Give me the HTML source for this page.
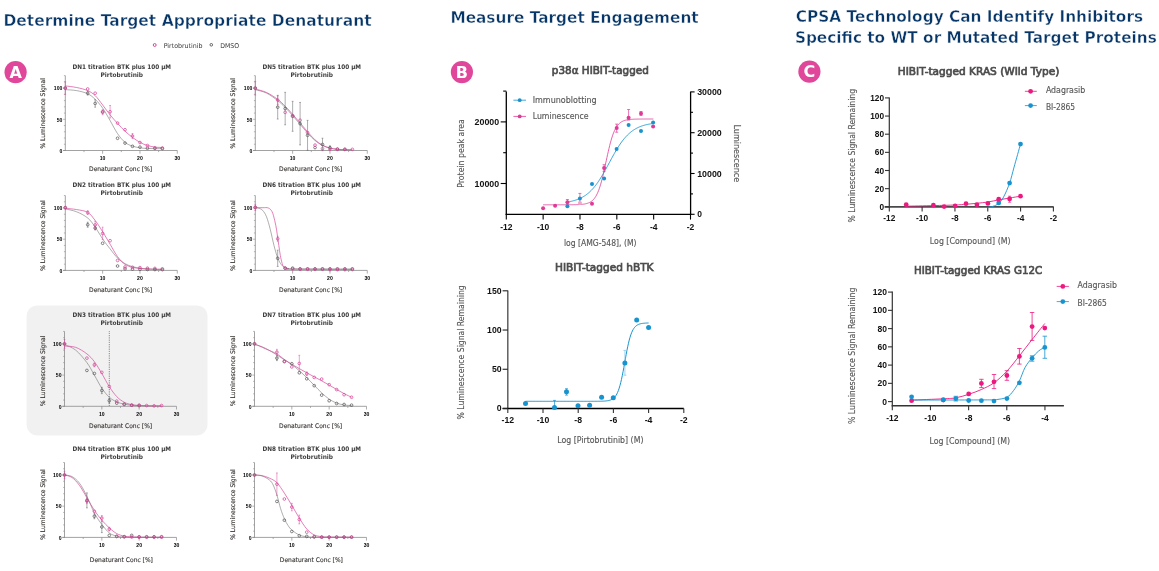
<!DOCTYPE html><html><head><meta charset="utf-8"><title>CPSA</title><style>html,body{margin:0;padding:0;background:#fff;width:1159px;height:571px;overflow:hidden}svg{display:block}text{font-family:'Liberation Sans', 'DejaVu Sans', sans-serif}.dv,.o{font-family:"DejaVu Sans","Liberation Sans",sans-serif}.a{font-family:"Liberation Sans","DejaVu Sans",sans-serif}</style></head><body>
<svg width="1159" height="571" viewBox="0 0 1159 571">
<rect x="0" y="0" width="1159" height="571" fill="#fff"/>
<text x="3.4" y="25.7" font-size="16.2" fill="#063668" font-weight="bold" text-anchor="start" textLength="368.2" lengthAdjust="spacingAndGlyphs" class="dv" stroke="#fff" stroke-width="0.45">Determine Target Appropriate Denaturant</text>
<text x="450.4" y="22.7" font-size="16.2" fill="#063668" font-weight="bold" text-anchor="start" textLength="248.3" lengthAdjust="spacingAndGlyphs" class="dv" stroke="#fff" stroke-width="0.45">Measure Target Engagement</text>
<text x="795.8" y="22.1" font-size="16.2" fill="#063668" font-weight="bold" text-anchor="start" textLength="347.3" lengthAdjust="spacingAndGlyphs" class="dv" stroke="#fff" stroke-width="0.45">CPSA Technology Can Identify Inhibitors</text>
<text x="794.9" y="42.7" font-size="16.2" fill="#063668" font-weight="bold" text-anchor="start" textLength="361.9" lengthAdjust="spacingAndGlyphs" class="dv" stroke="#fff" stroke-width="0.45">Specific to WT or Mutated Target Proteins</text>
<rect x="26.6" y="305.4" width="180.9" height="130.1" rx="11" ry="11" fill="#f1f1f1"/>
<circle cx="154.7" cy="45" r="1.45" fill="none" stroke="#d8479b" stroke-width="1.0"/>
<text x="163.7" y="48.1" font-size="6.6" fill="#383838" font-weight="normal" text-anchor="start" textLength="38.9" lengthAdjust="spacingAndGlyphs" class="o">Pirtobrutinib</text>
<circle cx="211.3" cy="44.8" r="1.3" fill="none" stroke="#444" stroke-width="0.8"/>
<text x="220.2" y="48.1" font-size="6.6" fill="#383838" font-weight="normal" text-anchor="start" textLength="18.9" lengthAdjust="spacingAndGlyphs" class="o">DMSO</text>
<circle cx="15.6" cy="72.2" r="11.1" fill="#e0479b"/>
<text x="15.6" y="77.9" font-size="16" fill="#fff" font-weight="bold" text-anchor="middle" class="o">A</text>
<circle cx="461.9" cy="72.1" r="11.1" fill="#e0479b"/>
<text x="461.9" y="77.8" font-size="16" fill="#fff" font-weight="bold" text-anchor="middle" class="o">B</text>
<circle cx="809.4" cy="71.6" r="11.1" fill="#e0479b"/>
<text x="809.4" y="77.3" font-size="16" fill="#fff" font-weight="bold" text-anchor="middle" class="o">C</text>
<text x="121.8" y="68.9" font-size="6.3" fill="#3c3c3c" font-weight="bold" text-anchor="middle" textLength="98.5" lengthAdjust="spacingAndGlyphs" class="o">DN1 titration BTK plus 100 μM</text>
<text x="121.8" y="76.9" font-size="6.3" fill="#3c3c3c" font-weight="bold" text-anchor="middle" textLength="42.5" lengthAdjust="spacingAndGlyphs" class="o">Pirtobrutinib</text>
<line x1="65.3" y1="150.9" x2="65.3" y2="75.62" stroke="#8a8a8a" stroke-width="0.8"/>
<line x1="63.1" y1="150.5" x2="177.29" y2="150.5" stroke="#8a8a8a" stroke-width="0.8"/>
<line x1="63.1" y1="150.5" x2="65.3" y2="150.5" stroke="#8a8a8a" stroke-width="0.6"/>
<line x1="63.9" y1="144.26" x2="65.3" y2="144.26" stroke="#8a8a8a" stroke-width="0.6"/>
<line x1="63.9" y1="138.02" x2="65.3" y2="138.02" stroke="#8a8a8a" stroke-width="0.6"/>
<line x1="63.9" y1="131.78" x2="65.3" y2="131.78" stroke="#8a8a8a" stroke-width="0.6"/>
<line x1="63.9" y1="125.54" x2="65.3" y2="125.54" stroke="#8a8a8a" stroke-width="0.6"/>
<line x1="63.1" y1="119.3" x2="65.3" y2="119.3" stroke="#8a8a8a" stroke-width="0.6"/>
<line x1="63.9" y1="113.06" x2="65.3" y2="113.06" stroke="#8a8a8a" stroke-width="0.6"/>
<line x1="63.9" y1="106.82" x2="65.3" y2="106.82" stroke="#8a8a8a" stroke-width="0.6"/>
<line x1="63.9" y1="100.58" x2="65.3" y2="100.58" stroke="#8a8a8a" stroke-width="0.6"/>
<line x1="63.9" y1="94.34" x2="65.3" y2="94.34" stroke="#8a8a8a" stroke-width="0.6"/>
<line x1="63.1" y1="88.1" x2="65.3" y2="88.1" stroke="#8a8a8a" stroke-width="0.6"/>
<line x1="63.9" y1="81.86" x2="65.3" y2="81.86" stroke="#8a8a8a" stroke-width="0.6"/>
<line x1="63.9" y1="75.62" x2="65.3" y2="75.62" stroke="#8a8a8a" stroke-width="0.6"/>
<line x1="83.97" y1="150.5" x2="83.97" y2="152.1" stroke="#8a8a8a" stroke-width="0.7"/>
<line x1="102.63" y1="150.5" x2="102.63" y2="153.7" stroke="#8a8a8a" stroke-width="0.7"/>
<line x1="121.3" y1="150.5" x2="121.3" y2="152.1" stroke="#8a8a8a" stroke-width="0.7"/>
<line x1="139.96" y1="150.5" x2="139.96" y2="153.7" stroke="#8a8a8a" stroke-width="0.7"/>
<line x1="158.62" y1="150.5" x2="158.62" y2="152.1" stroke="#8a8a8a" stroke-width="0.7"/>
<line x1="177.29" y1="150.5" x2="177.29" y2="153.7" stroke="#8a8a8a" stroke-width="0.7"/>
<text x="62.3" y="152.7" font-size="5.1" fill="#000" font-weight="bold" text-anchor="end" class="a">0</text>
<text x="62.3" y="121.5" font-size="5.1" fill="#000" font-weight="bold" text-anchor="end" class="a">50</text>
<text x="62.3" y="90.3" font-size="5.1" fill="#000" font-weight="bold" text-anchor="end" class="a">100</text>
<text x="102.63" y="160.2" font-size="5.1" fill="#000" font-weight="bold" text-anchor="middle" class="a">10</text>
<text x="139.96" y="160.2" font-size="5.1" fill="#000" font-weight="bold" text-anchor="middle" class="a">20</text>
<text x="177.29" y="160.2" font-size="5.1" fill="#000" font-weight="bold" text-anchor="middle" class="a">30</text>
<text x="120.6" y="170.6" font-size="6.3" fill="#3d3936" font-weight="normal" text-anchor="middle" textLength="63.1" lengthAdjust="spacingAndGlyphs" stroke="#3d3936" stroke-width="0.15" class="o">Denaturant Conc [%]</text>
<text transform="translate(44.7,113.3) rotate(-90)" x="0" y="0" font-size="6.3" fill="#3d3936" stroke="#3d3936" stroke-width="0.15" text-anchor="middle" class="o" textLength="70.4" lengthAdjust="spacingAndGlyphs">% Luminescence Signal</text>
<path d="M65.3,89.66 C67.17,89.82 72.77,89.92 76.5,90.6 C80.23,91.27 84.59,92.26 87.7,93.72 C90.81,95.17 92.68,96.94 95.16,99.33 C97.65,101.72 100.14,104.53 102.63,108.07 C105.12,111.6 107.61,116.28 110.1,120.55 C112.58,124.81 115.07,130.01 117.56,133.65 C120.05,137.29 122.54,140.31 125.03,142.39 C127.52,144.47 130.01,145.23 132.49,146.13 C134.98,147.04 137.47,147.43 139.96,147.82 C142.45,148.2 144.94,148.31 147.43,148.44 C149.91,148.58 152.4,148.6 154.89,148.63 C157.38,148.66 161.11,148.63 162.36,148.63" fill="none" stroke="#6a6a6a" stroke-width="0.55"/>
<path d="M65.3,85.92 C67.17,86.18 72.77,86.7 76.5,87.48 C80.23,88.26 84.59,89.24 87.7,90.6 C90.81,91.95 92.68,93.2 95.16,95.59 C97.65,97.98 100.14,101.72 102.63,104.95 C105.12,108.17 107.61,111.86 110.1,114.93 C112.58,118 115.07,120.65 117.56,123.36 C120.05,126.06 122.54,128.82 125.03,131.16 C127.52,133.5 130.01,135.52 132.49,137.4 C134.98,139.27 137.47,141.04 139.96,142.39 C142.45,143.74 144.94,144.73 147.43,145.51 C149.91,146.29 152.4,146.74 154.89,147.07 C157.38,147.4 161.11,147.43 162.36,147.5" fill="none" stroke="#d8479b" stroke-width="0.7"/>
<circle cx="65.3" cy="88.1" r="1.35" fill="none" stroke="#5a5a5a" stroke-width="0.75"/>
<line x1="87.7" y1="91.34" x2="87.7" y2="95.09" stroke="#5a5a5a" stroke-width="0.5"/>
<line x1="86.8" y1="91.34" x2="88.6" y2="91.34" stroke="#5a5a5a" stroke-width="0.5"/>
<line x1="86.8" y1="95.09" x2="88.6" y2="95.09" stroke="#5a5a5a" stroke-width="0.5"/>
<circle cx="87.7" cy="93.22" r="1.35" fill="none" stroke="#5a5a5a" stroke-width="0.75"/>
<line x1="95.16" y1="99.71" x2="95.16" y2="107.19" stroke="#5a5a5a" stroke-width="0.5"/>
<line x1="94.26" y1="99.71" x2="96.06" y2="99.71" stroke="#5a5a5a" stroke-width="0.5"/>
<line x1="94.26" y1="107.19" x2="96.06" y2="107.19" stroke="#5a5a5a" stroke-width="0.5"/>
<circle cx="95.16" cy="103.45" r="1.35" fill="none" stroke="#5a5a5a" stroke-width="0.75"/>
<circle cx="102.63" cy="111.81" r="1.35" fill="none" stroke="#5a5a5a" stroke-width="0.75"/>
<circle cx="117.56" cy="138.27" r="1.35" fill="none" stroke="#5a5a5a" stroke-width="0.75"/>
<circle cx="125.03" cy="143.07" r="1.35" fill="none" stroke="#5a5a5a" stroke-width="0.75"/>
<circle cx="132.49" cy="146.32" r="1.35" fill="none" stroke="#5a5a5a" stroke-width="0.75"/>
<circle cx="139.96" cy="147.13" r="1.35" fill="none" stroke="#5a5a5a" stroke-width="0.75"/>
<circle cx="147.43" cy="148.25" r="1.35" fill="none" stroke="#5a5a5a" stroke-width="0.75"/>
<circle cx="154.89" cy="148.25" r="1.35" fill="none" stroke="#5a5a5a" stroke-width="0.75"/>
<circle cx="162.36" cy="148.57" r="1.35" fill="none" stroke="#5a5a5a" stroke-width="0.75"/>
<line x1="65.3" y1="81.86" x2="65.3" y2="94.34" stroke="#d8479b" stroke-width="0.5"/>
<line x1="64.4" y1="81.86" x2="66.2" y2="81.86" stroke="#d8479b" stroke-width="0.5"/>
<line x1="64.4" y1="94.34" x2="66.2" y2="94.34" stroke="#d8479b" stroke-width="0.5"/>
<circle cx="65.3" cy="88.1" r="1.35" fill="none" stroke="#d8479b" stroke-width="0.75"/>
<circle cx="87.7" cy="88.97" r="1.35" fill="none" stroke="#d8479b" stroke-width="0.75"/>
<circle cx="95.16" cy="93.22" r="1.35" fill="none" stroke="#d8479b" stroke-width="0.75"/>
<line x1="102.63" y1="109.69" x2="102.63" y2="114.68" stroke="#d8479b" stroke-width="0.5"/>
<line x1="101.73" y1="109.69" x2="103.53" y2="109.69" stroke="#d8479b" stroke-width="0.5"/>
<line x1="101.73" y1="114.68" x2="103.53" y2="114.68" stroke="#d8479b" stroke-width="0.5"/>
<circle cx="102.63" cy="112.19" r="1.35" fill="none" stroke="#d8479b" stroke-width="0.75"/>
<line x1="110.1" y1="105.51" x2="110.1" y2="117.99" stroke="#d8479b" stroke-width="0.5"/>
<line x1="109.2" y1="105.51" x2="111" y2="105.51" stroke="#d8479b" stroke-width="0.5"/>
<line x1="109.2" y1="117.99" x2="111" y2="117.99" stroke="#d8479b" stroke-width="0.5"/>
<circle cx="110.1" cy="111.75" r="1.35" fill="none" stroke="#d8479b" stroke-width="0.75"/>
<circle cx="117.56" cy="123.11" r="1.35" fill="none" stroke="#d8479b" stroke-width="0.75"/>
<circle cx="125.03" cy="129.72" r="1.35" fill="none" stroke="#d8479b" stroke-width="0.75"/>
<line x1="132.49" y1="133.53" x2="132.49" y2="138.52" stroke="#d8479b" stroke-width="0.5"/>
<line x1="131.59" y1="133.53" x2="133.39" y2="133.53" stroke="#d8479b" stroke-width="0.5"/>
<line x1="131.59" y1="138.52" x2="133.39" y2="138.52" stroke="#d8479b" stroke-width="0.5"/>
<circle cx="132.49" cy="136.02" r="1.35" fill="none" stroke="#d8479b" stroke-width="0.75"/>
<circle cx="139.96" cy="142.51" r="1.35" fill="none" stroke="#d8479b" stroke-width="0.75"/>
<circle cx="147.43" cy="145.57" r="1.35" fill="none" stroke="#d8479b" stroke-width="0.75"/>
<circle cx="154.89" cy="148.13" r="1.35" fill="none" stroke="#d8479b" stroke-width="0.75"/>
<circle cx="162.36" cy="148" r="1.35" fill="none" stroke="#d8479b" stroke-width="0.75"/>
<text x="311.8" y="68.9" font-size="6.3" fill="#3c3c3c" font-weight="bold" text-anchor="middle" textLength="98.5" lengthAdjust="spacingAndGlyphs" class="o">DN5 titration BTK plus 100 μM</text>
<text x="311.8" y="76.9" font-size="6.3" fill="#3c3c3c" font-weight="bold" text-anchor="middle" textLength="42.5" lengthAdjust="spacingAndGlyphs" class="o">Pirtobrutinib</text>
<line x1="255.3" y1="150.9" x2="255.3" y2="75.62" stroke="#8a8a8a" stroke-width="0.8"/>
<line x1="253.1" y1="150.5" x2="367.29" y2="150.5" stroke="#8a8a8a" stroke-width="0.8"/>
<line x1="253.1" y1="150.5" x2="255.3" y2="150.5" stroke="#8a8a8a" stroke-width="0.6"/>
<line x1="253.9" y1="144.26" x2="255.3" y2="144.26" stroke="#8a8a8a" stroke-width="0.6"/>
<line x1="253.9" y1="138.02" x2="255.3" y2="138.02" stroke="#8a8a8a" stroke-width="0.6"/>
<line x1="253.9" y1="131.78" x2="255.3" y2="131.78" stroke="#8a8a8a" stroke-width="0.6"/>
<line x1="253.9" y1="125.54" x2="255.3" y2="125.54" stroke="#8a8a8a" stroke-width="0.6"/>
<line x1="253.1" y1="119.3" x2="255.3" y2="119.3" stroke="#8a8a8a" stroke-width="0.6"/>
<line x1="253.9" y1="113.06" x2="255.3" y2="113.06" stroke="#8a8a8a" stroke-width="0.6"/>
<line x1="253.9" y1="106.82" x2="255.3" y2="106.82" stroke="#8a8a8a" stroke-width="0.6"/>
<line x1="253.9" y1="100.58" x2="255.3" y2="100.58" stroke="#8a8a8a" stroke-width="0.6"/>
<line x1="253.9" y1="94.34" x2="255.3" y2="94.34" stroke="#8a8a8a" stroke-width="0.6"/>
<line x1="253.1" y1="88.1" x2="255.3" y2="88.1" stroke="#8a8a8a" stroke-width="0.6"/>
<line x1="253.9" y1="81.86" x2="255.3" y2="81.86" stroke="#8a8a8a" stroke-width="0.6"/>
<line x1="253.9" y1="75.62" x2="255.3" y2="75.62" stroke="#8a8a8a" stroke-width="0.6"/>
<line x1="273.97" y1="150.5" x2="273.97" y2="152.1" stroke="#8a8a8a" stroke-width="0.7"/>
<line x1="292.63" y1="150.5" x2="292.63" y2="153.7" stroke="#8a8a8a" stroke-width="0.7"/>
<line x1="311.3" y1="150.5" x2="311.3" y2="152.1" stroke="#8a8a8a" stroke-width="0.7"/>
<line x1="329.96" y1="150.5" x2="329.96" y2="153.7" stroke="#8a8a8a" stroke-width="0.7"/>
<line x1="348.62" y1="150.5" x2="348.62" y2="152.1" stroke="#8a8a8a" stroke-width="0.7"/>
<line x1="367.29" y1="150.5" x2="367.29" y2="153.7" stroke="#8a8a8a" stroke-width="0.7"/>
<text x="252.3" y="152.7" font-size="5.1" fill="#000" font-weight="bold" text-anchor="end" class="a">0</text>
<text x="252.3" y="121.5" font-size="5.1" fill="#000" font-weight="bold" text-anchor="end" class="a">50</text>
<text x="252.3" y="90.3" font-size="5.1" fill="#000" font-weight="bold" text-anchor="end" class="a">100</text>
<text x="292.63" y="160.2" font-size="5.1" fill="#000" font-weight="bold" text-anchor="middle" class="a">10</text>
<text x="329.96" y="160.2" font-size="5.1" fill="#000" font-weight="bold" text-anchor="middle" class="a">20</text>
<text x="367.29" y="160.2" font-size="5.1" fill="#000" font-weight="bold" text-anchor="middle" class="a">30</text>
<text x="310.6" y="170.6" font-size="6.3" fill="#3d3936" font-weight="normal" text-anchor="middle" textLength="63.1" lengthAdjust="spacingAndGlyphs" stroke="#3d3936" stroke-width="0.15" class="o">Denaturant Conc [%]</text>
<text transform="translate(234.7,113.3) rotate(-90)" x="0" y="0" font-size="6.3" fill="#3d3936" stroke="#3d3936" stroke-width="0.15" text-anchor="middle" class="o" textLength="70.4" lengthAdjust="spacingAndGlyphs">% Luminescence Signal</text>
<path d="M255.3,89.66 C257.17,90.23 262.77,91.27 266.5,93.09 C270.23,94.91 274.59,98.19 277.7,100.58 C280.81,102.97 282.68,104.95 285.16,107.44 C287.65,109.94 290.14,112.75 292.63,115.56 C295.12,118.36 297.61,121.38 300.1,124.29 C302.58,127.2 305.07,130.32 307.56,133.03 C310.05,135.73 312.54,138.44 315.03,140.52 C317.52,142.6 320.01,144.24 322.49,145.51 C324.98,146.78 327.47,147.48 329.96,148.13 C332.45,148.77 334.94,149.11 337.43,149.38 C339.91,149.65 342.4,149.67 344.89,149.75 C347.38,149.83 351.11,149.86 352.36,149.88" fill="none" stroke="#6a6a6a" stroke-width="0.55"/>
<path d="M255.3,89.04 C257.17,89.61 262.77,90.75 266.5,92.47 C270.23,94.18 274.59,97.04 277.7,99.33 C280.81,101.62 282.68,103.7 285.16,106.2 C287.65,108.69 290.14,111.5 292.63,114.31 C295.12,117.12 297.61,120.13 300.1,123.04 C302.58,125.96 305.07,128.97 307.56,131.78 C310.05,134.59 312.54,137.66 315.03,139.89 C317.52,142.13 320.01,143.84 322.49,145.2 C324.98,146.55 327.47,147.33 329.96,148 C332.45,148.68 334.94,148.97 337.43,149.25 C339.91,149.53 342.4,149.58 344.89,149.69 C347.38,149.79 351.11,149.84 352.36,149.88" fill="none" stroke="#d8479b" stroke-width="0.7"/>
<circle cx="255.3" cy="88.1" r="1.35" fill="none" stroke="#5a5a5a" stroke-width="0.75"/>
<line x1="277.7" y1="95.34" x2="277.7" y2="119.05" stroke="#5a5a5a" stroke-width="0.5"/>
<line x1="276.8" y1="95.34" x2="278.6" y2="95.34" stroke="#5a5a5a" stroke-width="0.5"/>
<line x1="276.8" y1="119.05" x2="278.6" y2="119.05" stroke="#5a5a5a" stroke-width="0.5"/>
<circle cx="277.7" cy="107.19" r="1.35" fill="none" stroke="#5a5a5a" stroke-width="0.75"/>
<line x1="285.16" y1="92.34" x2="285.16" y2="124.79" stroke="#5a5a5a" stroke-width="0.5"/>
<line x1="284.26" y1="92.34" x2="286.06" y2="92.34" stroke="#5a5a5a" stroke-width="0.5"/>
<line x1="284.26" y1="124.79" x2="286.06" y2="124.79" stroke="#5a5a5a" stroke-width="0.5"/>
<circle cx="285.16" cy="108.57" r="1.35" fill="none" stroke="#5a5a5a" stroke-width="0.75"/>
<line x1="292.63" y1="101.33" x2="292.63" y2="131.28" stroke="#5a5a5a" stroke-width="0.5"/>
<line x1="291.73" y1="101.33" x2="293.53" y2="101.33" stroke="#5a5a5a" stroke-width="0.5"/>
<line x1="291.73" y1="131.28" x2="293.53" y2="131.28" stroke="#5a5a5a" stroke-width="0.5"/>
<circle cx="292.63" cy="116.3" r="1.35" fill="none" stroke="#5a5a5a" stroke-width="0.75"/>
<line x1="300.1" y1="102.45" x2="300.1" y2="144.88" stroke="#5a5a5a" stroke-width="0.5"/>
<line x1="299.2" y1="102.45" x2="301" y2="102.45" stroke="#5a5a5a" stroke-width="0.5"/>
<line x1="299.2" y1="144.88" x2="301" y2="144.88" stroke="#5a5a5a" stroke-width="0.5"/>
<circle cx="300.1" cy="123.67" r="1.35" fill="none" stroke="#5a5a5a" stroke-width="0.75"/>
<line x1="307.56" y1="120.36" x2="307.56" y2="150.31" stroke="#5a5a5a" stroke-width="0.5"/>
<line x1="306.66" y1="120.36" x2="308.46" y2="120.36" stroke="#5a5a5a" stroke-width="0.5"/>
<line x1="306.66" y1="150.31" x2="308.46" y2="150.31" stroke="#5a5a5a" stroke-width="0.5"/>
<circle cx="307.56" cy="135.34" r="1.35" fill="none" stroke="#5a5a5a" stroke-width="0.75"/>
<circle cx="315.03" cy="147.57" r="1.35" fill="none" stroke="#5a5a5a" stroke-width="0.75"/>
<line x1="322.49" y1="138.21" x2="322.49" y2="150.69" stroke="#5a5a5a" stroke-width="0.5"/>
<line x1="321.59" y1="138.21" x2="323.39" y2="138.21" stroke="#5a5a5a" stroke-width="0.5"/>
<line x1="321.59" y1="150.69" x2="323.39" y2="150.69" stroke="#5a5a5a" stroke-width="0.5"/>
<circle cx="322.49" cy="144.45" r="1.35" fill="none" stroke="#5a5a5a" stroke-width="0.75"/>
<line x1="329.96" y1="145.82" x2="329.96" y2="149.56" stroke="#5a5a5a" stroke-width="0.5"/>
<line x1="329.06" y1="145.82" x2="330.86" y2="145.82" stroke="#5a5a5a" stroke-width="0.5"/>
<line x1="329.06" y1="149.56" x2="330.86" y2="149.56" stroke="#5a5a5a" stroke-width="0.5"/>
<circle cx="329.96" cy="147.69" r="1.35" fill="none" stroke="#5a5a5a" stroke-width="0.75"/>
<circle cx="337.43" cy="149.06" r="1.35" fill="none" stroke="#5a5a5a" stroke-width="0.75"/>
<circle cx="344.89" cy="149.38" r="1.35" fill="none" stroke="#5a5a5a" stroke-width="0.75"/>
<line x1="255.3" y1="81.36" x2="255.3" y2="95.09" stroke="#d8479b" stroke-width="0.5"/>
<line x1="254.4" y1="81.36" x2="256.2" y2="81.36" stroke="#d8479b" stroke-width="0.5"/>
<line x1="254.4" y1="95.09" x2="256.2" y2="95.09" stroke="#d8479b" stroke-width="0.5"/>
<circle cx="255.3" cy="88.22" r="1.35" fill="none" stroke="#d8479b" stroke-width="0.75"/>
<line x1="277.7" y1="95.78" x2="277.7" y2="104.51" stroke="#d8479b" stroke-width="0.5"/>
<line x1="276.8" y1="95.78" x2="278.6" y2="95.78" stroke="#d8479b" stroke-width="0.5"/>
<line x1="276.8" y1="104.51" x2="278.6" y2="104.51" stroke="#d8479b" stroke-width="0.5"/>
<circle cx="277.7" cy="100.14" r="1.35" fill="none" stroke="#d8479b" stroke-width="0.75"/>
<circle cx="285.16" cy="112.37" r="1.35" fill="none" stroke="#d8479b" stroke-width="0.75"/>
<circle cx="292.63" cy="115.62" r="1.35" fill="none" stroke="#d8479b" stroke-width="0.75"/>
<circle cx="300.1" cy="120.24" r="1.35" fill="none" stroke="#d8479b" stroke-width="0.75"/>
<circle cx="307.56" cy="132.53" r="1.35" fill="none" stroke="#d8479b" stroke-width="0.75"/>
<circle cx="315.03" cy="145.13" r="1.35" fill="none" stroke="#d8479b" stroke-width="0.75"/>
<circle cx="322.49" cy="148.69" r="1.35" fill="none" stroke="#d8479b" stroke-width="0.75"/>
<circle cx="329.96" cy="149.38" r="1.35" fill="none" stroke="#d8479b" stroke-width="0.75"/>
<circle cx="337.43" cy="149.38" r="1.35" fill="none" stroke="#d8479b" stroke-width="0.75"/>
<circle cx="344.89" cy="149.38" r="1.35" fill="none" stroke="#d8479b" stroke-width="0.75"/>
<circle cx="352.36" cy="149.38" r="1.35" fill="none" stroke="#d8479b" stroke-width="0.75"/>
<text x="121.8" y="186.7" font-size="6.3" fill="#3c3c3c" font-weight="bold" text-anchor="middle" textLength="98.5" lengthAdjust="spacingAndGlyphs" class="o">DN2 titration BTK plus 100 μM</text>
<text x="121.8" y="194.7" font-size="6.3" fill="#3c3c3c" font-weight="bold" text-anchor="middle" textLength="42.5" lengthAdjust="spacingAndGlyphs" class="o">Pirtobrutinib</text>
<line x1="65.3" y1="270.8" x2="65.3" y2="195.52" stroke="#8a8a8a" stroke-width="0.8"/>
<line x1="63.1" y1="270.4" x2="177.29" y2="270.4" stroke="#8a8a8a" stroke-width="0.8"/>
<line x1="63.1" y1="270.4" x2="65.3" y2="270.4" stroke="#8a8a8a" stroke-width="0.6"/>
<line x1="63.9" y1="264.16" x2="65.3" y2="264.16" stroke="#8a8a8a" stroke-width="0.6"/>
<line x1="63.9" y1="257.92" x2="65.3" y2="257.92" stroke="#8a8a8a" stroke-width="0.6"/>
<line x1="63.9" y1="251.68" x2="65.3" y2="251.68" stroke="#8a8a8a" stroke-width="0.6"/>
<line x1="63.9" y1="245.44" x2="65.3" y2="245.44" stroke="#8a8a8a" stroke-width="0.6"/>
<line x1="63.1" y1="239.2" x2="65.3" y2="239.2" stroke="#8a8a8a" stroke-width="0.6"/>
<line x1="63.9" y1="232.96" x2="65.3" y2="232.96" stroke="#8a8a8a" stroke-width="0.6"/>
<line x1="63.9" y1="226.72" x2="65.3" y2="226.72" stroke="#8a8a8a" stroke-width="0.6"/>
<line x1="63.9" y1="220.48" x2="65.3" y2="220.48" stroke="#8a8a8a" stroke-width="0.6"/>
<line x1="63.9" y1="214.24" x2="65.3" y2="214.24" stroke="#8a8a8a" stroke-width="0.6"/>
<line x1="63.1" y1="208" x2="65.3" y2="208" stroke="#8a8a8a" stroke-width="0.6"/>
<line x1="63.9" y1="201.76" x2="65.3" y2="201.76" stroke="#8a8a8a" stroke-width="0.6"/>
<line x1="63.9" y1="195.52" x2="65.3" y2="195.52" stroke="#8a8a8a" stroke-width="0.6"/>
<line x1="83.97" y1="270.4" x2="83.97" y2="272" stroke="#8a8a8a" stroke-width="0.7"/>
<line x1="102.63" y1="270.4" x2="102.63" y2="273.6" stroke="#8a8a8a" stroke-width="0.7"/>
<line x1="121.3" y1="270.4" x2="121.3" y2="272" stroke="#8a8a8a" stroke-width="0.7"/>
<line x1="139.96" y1="270.4" x2="139.96" y2="273.6" stroke="#8a8a8a" stroke-width="0.7"/>
<line x1="158.62" y1="270.4" x2="158.62" y2="272" stroke="#8a8a8a" stroke-width="0.7"/>
<line x1="177.29" y1="270.4" x2="177.29" y2="273.6" stroke="#8a8a8a" stroke-width="0.7"/>
<text x="62.3" y="272.6" font-size="5.1" fill="#000" font-weight="bold" text-anchor="end" class="a">0</text>
<text x="62.3" y="241.4" font-size="5.1" fill="#000" font-weight="bold" text-anchor="end" class="a">50</text>
<text x="62.3" y="210.2" font-size="5.1" fill="#000" font-weight="bold" text-anchor="end" class="a">100</text>
<text x="102.63" y="280.1" font-size="5.1" fill="#000" font-weight="bold" text-anchor="middle" class="a">10</text>
<text x="139.96" y="280.1" font-size="5.1" fill="#000" font-weight="bold" text-anchor="middle" class="a">20</text>
<text x="177.29" y="280.1" font-size="5.1" fill="#000" font-weight="bold" text-anchor="middle" class="a">30</text>
<text x="120.6" y="292.4" font-size="6.3" fill="#3d3936" font-weight="normal" text-anchor="middle" textLength="63.1" lengthAdjust="spacingAndGlyphs" stroke="#3d3936" stroke-width="0.15" class="o">Denaturant Conc [%]</text>
<text transform="translate(44.7,235.5) rotate(-90)" x="0" y="0" font-size="6.3" fill="#3d3936" stroke="#3d3936" stroke-width="0.15" text-anchor="middle" class="o" textLength="70.4" lengthAdjust="spacingAndGlyphs">% Luminescence Signal</text>
<path d="M65.3,208.94 C67.17,209.4 72.77,210.24 76.5,211.74 C80.23,213.25 84.59,215.44 87.7,217.98 C90.81,220.53 92.68,223.53 95.16,227.03 C97.65,230.54 100.14,235.37 102.63,239.01 C105.12,242.65 107.61,245.7 110.1,248.87 C112.58,252.04 115.07,255.58 117.56,258.04 C120.05,260.51 122.54,262.23 125.03,263.66 C127.52,265.1 130.01,265.91 132.49,266.66 C134.98,267.4 137.47,267.78 139.96,268.15 C142.45,268.53 144.94,268.72 147.43,268.9 C149.91,269.09 152.4,269.18 154.89,269.28 C157.38,269.37 161.11,269.43 162.36,269.46" fill="none" stroke="#6a6a6a" stroke-width="0.55"/>
<path d="M65.3,208.31 C67.17,208.52 72.77,208.88 76.5,209.56 C80.23,210.24 84.59,210.55 87.7,212.37 C90.81,214.19 92.68,217.26 95.16,220.48 C97.65,223.7 100.14,227.76 102.63,231.71 C105.12,235.66 107.61,240.03 110.1,244.19 C112.58,248.35 115.07,253.31 117.56,256.67 C120.05,260.03 122.54,262.58 125.03,264.35 C127.52,266.12 130.01,266.58 132.49,267.28 C134.98,267.98 137.47,268.24 139.96,268.53 C142.45,268.82 144.94,268.91 147.43,269.03 C149.91,269.14 152.4,269.17 154.89,269.21 C157.38,269.26 161.11,269.27 162.36,269.28" fill="none" stroke="#d8479b" stroke-width="0.7"/>
<circle cx="65.3" cy="207.69" r="1.35" fill="none" stroke="#5a5a5a" stroke-width="0.75"/>
<line x1="87.7" y1="222.23" x2="87.7" y2="227.22" stroke="#5a5a5a" stroke-width="0.5"/>
<line x1="86.8" y1="222.23" x2="88.6" y2="222.23" stroke="#5a5a5a" stroke-width="0.5"/>
<line x1="86.8" y1="227.22" x2="88.6" y2="227.22" stroke="#5a5a5a" stroke-width="0.5"/>
<circle cx="87.7" cy="224.72" r="1.35" fill="none" stroke="#5a5a5a" stroke-width="0.75"/>
<line x1="95.16" y1="226.22" x2="95.16" y2="229.96" stroke="#5a5a5a" stroke-width="0.5"/>
<line x1="94.26" y1="226.22" x2="96.06" y2="226.22" stroke="#5a5a5a" stroke-width="0.5"/>
<line x1="94.26" y1="229.96" x2="96.06" y2="229.96" stroke="#5a5a5a" stroke-width="0.5"/>
<circle cx="95.16" cy="228.09" r="1.35" fill="none" stroke="#5a5a5a" stroke-width="0.75"/>
<circle cx="102.63" cy="243.26" r="1.35" fill="none" stroke="#5a5a5a" stroke-width="0.75"/>
<circle cx="117.56" cy="266.03" r="1.35" fill="none" stroke="#5a5a5a" stroke-width="0.75"/>
<circle cx="125.03" cy="268.84" r="1.35" fill="none" stroke="#5a5a5a" stroke-width="0.75"/>
<circle cx="132.49" cy="269.15" r="1.35" fill="none" stroke="#5a5a5a" stroke-width="0.75"/>
<circle cx="139.96" cy="269.28" r="1.35" fill="none" stroke="#5a5a5a" stroke-width="0.75"/>
<circle cx="147.43" cy="269.46" r="1.35" fill="none" stroke="#5a5a5a" stroke-width="0.75"/>
<circle cx="154.89" cy="269.53" r="1.35" fill="none" stroke="#5a5a5a" stroke-width="0.75"/>
<circle cx="162.36" cy="269.59" r="1.35" fill="none" stroke="#5a5a5a" stroke-width="0.75"/>
<circle cx="65.3" cy="207.69" r="1.35" fill="none" stroke="#d8479b" stroke-width="0.75"/>
<line x1="87.7" y1="210.75" x2="87.7" y2="214.49" stroke="#d8479b" stroke-width="0.5"/>
<line x1="86.8" y1="210.75" x2="88.6" y2="210.75" stroke="#d8479b" stroke-width="0.5"/>
<line x1="86.8" y1="214.49" x2="88.6" y2="214.49" stroke="#d8479b" stroke-width="0.5"/>
<circle cx="87.7" cy="212.62" r="1.35" fill="none" stroke="#d8479b" stroke-width="0.75"/>
<line x1="95.16" y1="221.23" x2="95.16" y2="228.72" stroke="#d8479b" stroke-width="0.5"/>
<line x1="94.26" y1="221.23" x2="96.06" y2="221.23" stroke="#d8479b" stroke-width="0.5"/>
<line x1="94.26" y1="228.72" x2="96.06" y2="228.72" stroke="#d8479b" stroke-width="0.5"/>
<circle cx="95.16" cy="224.97" r="1.35" fill="none" stroke="#d8479b" stroke-width="0.75"/>
<line x1="102.63" y1="227.16" x2="102.63" y2="239.64" stroke="#d8479b" stroke-width="0.5"/>
<line x1="101.73" y1="227.16" x2="103.53" y2="227.16" stroke="#d8479b" stroke-width="0.5"/>
<line x1="101.73" y1="239.64" x2="103.53" y2="239.64" stroke="#d8479b" stroke-width="0.5"/>
<circle cx="102.63" cy="233.4" r="1.35" fill="none" stroke="#d8479b" stroke-width="0.75"/>
<circle cx="110.1" cy="240.7" r="1.35" fill="none" stroke="#d8479b" stroke-width="0.75"/>
<circle cx="117.56" cy="260.42" r="1.35" fill="none" stroke="#d8479b" stroke-width="0.75"/>
<circle cx="125.03" cy="267.03" r="1.35" fill="none" stroke="#d8479b" stroke-width="0.75"/>
<circle cx="132.49" cy="267.28" r="1.35" fill="none" stroke="#d8479b" stroke-width="0.75"/>
<circle cx="139.96" cy="267.59" r="1.35" fill="none" stroke="#d8479b" stroke-width="0.75"/>
<circle cx="147.43" cy="268.15" r="1.35" fill="none" stroke="#d8479b" stroke-width="0.75"/>
<circle cx="154.89" cy="268.4" r="1.35" fill="none" stroke="#d8479b" stroke-width="0.75"/>
<circle cx="162.36" cy="268.84" r="1.35" fill="none" stroke="#d8479b" stroke-width="0.75"/>
<text x="311.8" y="186.7" font-size="6.3" fill="#3c3c3c" font-weight="bold" text-anchor="middle" textLength="98.5" lengthAdjust="spacingAndGlyphs" class="o">DN6 titration BTK plus 100 μM</text>
<text x="311.8" y="194.7" font-size="6.3" fill="#3c3c3c" font-weight="bold" text-anchor="middle" textLength="42.5" lengthAdjust="spacingAndGlyphs" class="o">Pirtobrutinib</text>
<line x1="255.3" y1="270.8" x2="255.3" y2="195.52" stroke="#8a8a8a" stroke-width="0.8"/>
<line x1="253.1" y1="270.4" x2="367.29" y2="270.4" stroke="#8a8a8a" stroke-width="0.8"/>
<line x1="253.1" y1="270.4" x2="255.3" y2="270.4" stroke="#8a8a8a" stroke-width="0.6"/>
<line x1="253.9" y1="264.16" x2="255.3" y2="264.16" stroke="#8a8a8a" stroke-width="0.6"/>
<line x1="253.9" y1="257.92" x2="255.3" y2="257.92" stroke="#8a8a8a" stroke-width="0.6"/>
<line x1="253.9" y1="251.68" x2="255.3" y2="251.68" stroke="#8a8a8a" stroke-width="0.6"/>
<line x1="253.9" y1="245.44" x2="255.3" y2="245.44" stroke="#8a8a8a" stroke-width="0.6"/>
<line x1="253.1" y1="239.2" x2="255.3" y2="239.2" stroke="#8a8a8a" stroke-width="0.6"/>
<line x1="253.9" y1="232.96" x2="255.3" y2="232.96" stroke="#8a8a8a" stroke-width="0.6"/>
<line x1="253.9" y1="226.72" x2="255.3" y2="226.72" stroke="#8a8a8a" stroke-width="0.6"/>
<line x1="253.9" y1="220.48" x2="255.3" y2="220.48" stroke="#8a8a8a" stroke-width="0.6"/>
<line x1="253.9" y1="214.24" x2="255.3" y2="214.24" stroke="#8a8a8a" stroke-width="0.6"/>
<line x1="253.1" y1="208" x2="255.3" y2="208" stroke="#8a8a8a" stroke-width="0.6"/>
<line x1="253.9" y1="201.76" x2="255.3" y2="201.76" stroke="#8a8a8a" stroke-width="0.6"/>
<line x1="253.9" y1="195.52" x2="255.3" y2="195.52" stroke="#8a8a8a" stroke-width="0.6"/>
<line x1="273.97" y1="270.4" x2="273.97" y2="272" stroke="#8a8a8a" stroke-width="0.7"/>
<line x1="292.63" y1="270.4" x2="292.63" y2="273.6" stroke="#8a8a8a" stroke-width="0.7"/>
<line x1="311.3" y1="270.4" x2="311.3" y2="272" stroke="#8a8a8a" stroke-width="0.7"/>
<line x1="329.96" y1="270.4" x2="329.96" y2="273.6" stroke="#8a8a8a" stroke-width="0.7"/>
<line x1="348.62" y1="270.4" x2="348.62" y2="272" stroke="#8a8a8a" stroke-width="0.7"/>
<line x1="367.29" y1="270.4" x2="367.29" y2="273.6" stroke="#8a8a8a" stroke-width="0.7"/>
<text x="252.3" y="272.6" font-size="5.1" fill="#000" font-weight="bold" text-anchor="end" class="a">0</text>
<text x="252.3" y="241.4" font-size="5.1" fill="#000" font-weight="bold" text-anchor="end" class="a">50</text>
<text x="252.3" y="210.2" font-size="5.1" fill="#000" font-weight="bold" text-anchor="end" class="a">100</text>
<text x="292.63" y="280.1" font-size="5.1" fill="#000" font-weight="bold" text-anchor="middle" class="a">10</text>
<text x="329.96" y="280.1" font-size="5.1" fill="#000" font-weight="bold" text-anchor="middle" class="a">20</text>
<text x="367.29" y="280.1" font-size="5.1" fill="#000" font-weight="bold" text-anchor="middle" class="a">30</text>
<text x="310.6" y="292.4" font-size="6.3" fill="#3d3936" font-weight="normal" text-anchor="middle" textLength="63.1" lengthAdjust="spacingAndGlyphs" stroke="#3d3936" stroke-width="0.15" class="o">Denaturant Conc [%]</text>
<text transform="translate(234.7,235.5) rotate(-90)" x="0" y="0" font-size="6.3" fill="#3d3936" stroke="#3d3936" stroke-width="0.15" text-anchor="middle" class="o" textLength="70.4" lengthAdjust="spacingAndGlyphs">% Luminescence Signal</text>
<path d="M255.3,207.69 C255.92,207.79 257.79,207.84 259.03,208.31 C260.28,208.78 261.52,209.09 262.77,210.5 C264.01,211.9 265.25,213.62 266.5,216.74 C267.74,219.86 268.99,224.43 270.23,229.22 C271.48,234 272.72,240.66 273.97,245.44 C275.21,250.22 276.45,254.7 277.7,257.92 C278.94,261.14 280.19,263.17 281.43,264.78 C282.68,266.4 283.92,266.97 285.16,267.59 C286.41,268.22 287.65,268.33 288.9,268.53 C290.14,268.73 282.05,268.69 292.63,268.78 C303.21,268.86 342.4,268.99 352.36,269.03" fill="none" stroke="#6a6a6a" stroke-width="0.55"/>
<path d="M255.3,207.69 C256.54,207.69 260.59,207.64 262.77,207.69 C264.94,207.74 266.81,207.32 268.37,208 C269.92,208.68 271.04,209.66 272.1,211.74 C273.16,213.82 273.97,217.46 274.71,220.48 C275.46,223.5 276.08,226.93 276.58,229.84 C277.08,232.75 277.32,235.35 277.7,237.95 C278.07,240.55 278.38,242.53 278.82,245.44 C279.25,248.35 279.75,252.41 280.31,255.42 C280.87,258.44 281.56,261.56 282.18,263.54 C282.8,265.51 283.24,266.4 284.04,267.28 C284.85,268.16 285.6,268.51 287.03,268.84 C288.46,269.17 281.74,269.17 292.63,269.28 C303.52,269.38 342.4,269.43 352.36,269.46" fill="none" stroke="#d8479b" stroke-width="0.7"/>
<circle cx="255.3" cy="207.38" r="1.35" fill="none" stroke="#5a5a5a" stroke-width="0.75"/>
<line x1="277.7" y1="250.18" x2="277.7" y2="266.41" stroke="#5a5a5a" stroke-width="0.5"/>
<line x1="276.8" y1="250.18" x2="278.6" y2="250.18" stroke="#5a5a5a" stroke-width="0.5"/>
<line x1="276.8" y1="266.41" x2="278.6" y2="266.41" stroke="#5a5a5a" stroke-width="0.5"/>
<circle cx="277.7" cy="258.29" r="1.35" fill="none" stroke="#5a5a5a" stroke-width="0.75"/>
<circle cx="285.16" cy="268.15" r="1.35" fill="none" stroke="#5a5a5a" stroke-width="0.75"/>
<circle cx="292.63" cy="268.15" r="1.35" fill="none" stroke="#5a5a5a" stroke-width="0.75"/>
<circle cx="300.1" cy="268.84" r="1.35" fill="none" stroke="#5a5a5a" stroke-width="0.75"/>
<circle cx="307.56" cy="268.84" r="1.35" fill="none" stroke="#5a5a5a" stroke-width="0.75"/>
<circle cx="315.03" cy="268.84" r="1.35" fill="none" stroke="#5a5a5a" stroke-width="0.75"/>
<circle cx="322.49" cy="268.84" r="1.35" fill="none" stroke="#5a5a5a" stroke-width="0.75"/>
<circle cx="329.96" cy="268.84" r="1.35" fill="none" stroke="#5a5a5a" stroke-width="0.75"/>
<circle cx="337.43" cy="268.84" r="1.35" fill="none" stroke="#5a5a5a" stroke-width="0.75"/>
<circle cx="344.89" cy="268.84" r="1.35" fill="none" stroke="#5a5a5a" stroke-width="0.75"/>
<circle cx="352.36" cy="268.84" r="1.35" fill="none" stroke="#5a5a5a" stroke-width="0.75"/>
<line x1="255.3" y1="204.26" x2="255.3" y2="210.5" stroke="#d8479b" stroke-width="0.5"/>
<line x1="254.4" y1="204.26" x2="256.2" y2="204.26" stroke="#d8479b" stroke-width="0.5"/>
<line x1="254.4" y1="210.5" x2="256.2" y2="210.5" stroke="#d8479b" stroke-width="0.5"/>
<circle cx="255.3" cy="207.38" r="1.35" fill="none" stroke="#d8479b" stroke-width="0.75"/>
<line x1="277.7" y1="236.27" x2="277.7" y2="241.26" stroke="#d8479b" stroke-width="0.5"/>
<line x1="276.8" y1="236.27" x2="278.6" y2="236.27" stroke="#d8479b" stroke-width="0.5"/>
<line x1="276.8" y1="241.26" x2="278.6" y2="241.26" stroke="#d8479b" stroke-width="0.5"/>
<circle cx="277.7" cy="238.76" r="1.35" fill="none" stroke="#d8479b" stroke-width="0.75"/>
<circle cx="285.16" cy="268.15" r="1.35" fill="none" stroke="#d8479b" stroke-width="0.75"/>
<circle cx="292.63" cy="268.96" r="1.35" fill="none" stroke="#d8479b" stroke-width="0.75"/>
<circle cx="300.1" cy="269.28" r="1.35" fill="none" stroke="#d8479b" stroke-width="0.75"/>
<circle cx="307.56" cy="269.28" r="1.35" fill="none" stroke="#d8479b" stroke-width="0.75"/>
<circle cx="315.03" cy="269.28" r="1.35" fill="none" stroke="#d8479b" stroke-width="0.75"/>
<circle cx="322.49" cy="269.28" r="1.35" fill="none" stroke="#d8479b" stroke-width="0.75"/>
<circle cx="329.96" cy="269.65" r="1.35" fill="none" stroke="#d8479b" stroke-width="0.75"/>
<circle cx="337.43" cy="269.65" r="1.35" fill="none" stroke="#d8479b" stroke-width="0.75"/>
<circle cx="344.89" cy="269.65" r="1.35" fill="none" stroke="#d8479b" stroke-width="0.75"/>
<circle cx="352.36" cy="269.53" r="1.35" fill="none" stroke="#d8479b" stroke-width="0.75"/>
<text x="121.8" y="316.7" font-size="6.3" fill="#3c3c3c" font-weight="bold" text-anchor="middle" textLength="98.5" lengthAdjust="spacingAndGlyphs" class="o">DN3 titration BTK plus 100 μM</text>
<text x="121.8" y="324.7" font-size="6.3" fill="#3c3c3c" font-weight="bold" text-anchor="middle" textLength="42.5" lengthAdjust="spacingAndGlyphs" class="o">Pirtobrutinib</text>
<line x1="64.5" y1="406.7" x2="64.5" y2="331.42" stroke="#8a8a8a" stroke-width="0.8"/>
<line x1="62.3" y1="406.3" x2="176.49" y2="406.3" stroke="#8a8a8a" stroke-width="0.8"/>
<line x1="62.3" y1="406.3" x2="64.5" y2="406.3" stroke="#8a8a8a" stroke-width="0.6"/>
<line x1="63.1" y1="400.06" x2="64.5" y2="400.06" stroke="#8a8a8a" stroke-width="0.6"/>
<line x1="63.1" y1="393.82" x2="64.5" y2="393.82" stroke="#8a8a8a" stroke-width="0.6"/>
<line x1="63.1" y1="387.58" x2="64.5" y2="387.58" stroke="#8a8a8a" stroke-width="0.6"/>
<line x1="63.1" y1="381.34" x2="64.5" y2="381.34" stroke="#8a8a8a" stroke-width="0.6"/>
<line x1="62.3" y1="375.1" x2="64.5" y2="375.1" stroke="#8a8a8a" stroke-width="0.6"/>
<line x1="63.1" y1="368.86" x2="64.5" y2="368.86" stroke="#8a8a8a" stroke-width="0.6"/>
<line x1="63.1" y1="362.62" x2="64.5" y2="362.62" stroke="#8a8a8a" stroke-width="0.6"/>
<line x1="63.1" y1="356.38" x2="64.5" y2="356.38" stroke="#8a8a8a" stroke-width="0.6"/>
<line x1="63.1" y1="350.14" x2="64.5" y2="350.14" stroke="#8a8a8a" stroke-width="0.6"/>
<line x1="62.3" y1="343.9" x2="64.5" y2="343.9" stroke="#8a8a8a" stroke-width="0.6"/>
<line x1="63.1" y1="337.66" x2="64.5" y2="337.66" stroke="#8a8a8a" stroke-width="0.6"/>
<line x1="63.1" y1="331.42" x2="64.5" y2="331.42" stroke="#8a8a8a" stroke-width="0.6"/>
<line x1="83.16" y1="406.3" x2="83.16" y2="407.9" stroke="#8a8a8a" stroke-width="0.7"/>
<line x1="101.83" y1="406.3" x2="101.83" y2="409.5" stroke="#8a8a8a" stroke-width="0.7"/>
<line x1="120.5" y1="406.3" x2="120.5" y2="407.9" stroke="#8a8a8a" stroke-width="0.7"/>
<line x1="139.16" y1="406.3" x2="139.16" y2="409.5" stroke="#8a8a8a" stroke-width="0.7"/>
<line x1="157.82" y1="406.3" x2="157.82" y2="407.9" stroke="#8a8a8a" stroke-width="0.7"/>
<line x1="176.49" y1="406.3" x2="176.49" y2="409.5" stroke="#8a8a8a" stroke-width="0.7"/>
<text x="61.5" y="408.5" font-size="5.1" fill="#000" font-weight="bold" text-anchor="end" class="a">0</text>
<text x="61.5" y="377.3" font-size="5.1" fill="#000" font-weight="bold" text-anchor="end" class="a">50</text>
<text x="61.5" y="346.1" font-size="5.1" fill="#000" font-weight="bold" text-anchor="end" class="a">100</text>
<text x="101.83" y="416" font-size="5.1" fill="#000" font-weight="bold" text-anchor="middle" class="a">10</text>
<text x="139.16" y="416" font-size="5.1" fill="#000" font-weight="bold" text-anchor="middle" class="a">20</text>
<text x="176.49" y="416" font-size="5.1" fill="#000" font-weight="bold" text-anchor="middle" class="a">30</text>
<text x="120.6" y="427.7" font-size="6.3" fill="#3d3936" font-weight="normal" text-anchor="middle" textLength="63.1" lengthAdjust="spacingAndGlyphs" stroke="#3d3936" stroke-width="0.15" class="o">Denaturant Conc [%]</text>
<text transform="translate(44.7,370.8) rotate(-90)" x="0" y="0" font-size="6.3" fill="#3d3936" stroke="#3d3936" stroke-width="0.15" text-anchor="middle" class="o" textLength="70.4" lengthAdjust="spacingAndGlyphs">% Luminescence Signal</text>
<line x1="109.3" y1="331.42" x2="109.3" y2="406.3" stroke="#222" stroke-width="0.7" stroke-dasharray="0.7,1.1"/>
<path d="M64.5,344.52 C66.37,345.46 71.97,347.12 75.7,350.14 C79.43,353.16 83.79,358.46 86.9,362.62 C90.01,366.78 91.88,370.84 94.36,375.1 C96.85,379.36 99.34,384.51 101.83,388.2 C104.32,391.9 106.81,394.96 109.3,397.25 C111.78,399.54 114.27,400.79 116.76,401.93 C119.25,403.08 121.74,403.58 124.23,404.12 C126.72,404.66 129.21,404.93 131.69,405.18 C134.18,405.43 136.67,405.51 139.16,405.61 C141.65,405.72 144.14,405.76 146.63,405.8 C149.11,405.84 151.6,405.84 154.09,405.86 C156.58,405.88 160.31,405.92 161.56,405.93" fill="none" stroke="#6a6a6a" stroke-width="0.55"/>
<path d="M64.5,346.08 C66.37,346.29 71.97,346.03 75.7,347.33 C79.43,348.63 83.79,351.49 86.9,353.88 C90.01,356.28 91.88,358.41 94.36,361.68 C96.85,364.96 99.34,369.38 101.83,373.54 C104.32,377.7 106.81,382.8 109.3,386.64 C111.78,390.49 114.27,394.03 116.76,396.63 C119.25,399.23 121.74,400.9 124.23,402.24 C126.72,403.59 129.21,404.13 131.69,404.68 C134.18,405.23 136.67,405.36 139.16,405.55 C141.65,405.74 144.14,405.74 146.63,405.8 C149.11,405.86 151.6,405.9 154.09,405.93 C156.58,405.95 160.31,405.93 161.56,405.93" fill="none" stroke="#d8479b" stroke-width="0.7"/>
<circle cx="64.5" cy="343.9" r="1.35" fill="none" stroke="#5a5a5a" stroke-width="0.75"/>
<circle cx="86.9" cy="370.42" r="1.35" fill="none" stroke="#5a5a5a" stroke-width="0.75"/>
<circle cx="94.36" cy="373.48" r="1.35" fill="none" stroke="#5a5a5a" stroke-width="0.75"/>
<line x1="101.83" y1="387.39" x2="101.83" y2="393.63" stroke="#5a5a5a" stroke-width="0.5"/>
<line x1="100.93" y1="387.39" x2="102.73" y2="387.39" stroke="#5a5a5a" stroke-width="0.5"/>
<line x1="100.93" y1="393.63" x2="102.73" y2="393.63" stroke="#5a5a5a" stroke-width="0.5"/>
<circle cx="101.83" cy="390.51" r="1.35" fill="none" stroke="#5a5a5a" stroke-width="0.75"/>
<line x1="109.3" y1="398.19" x2="109.3" y2="403.18" stroke="#5a5a5a" stroke-width="0.5"/>
<line x1="108.4" y1="398.19" x2="110.2" y2="398.19" stroke="#5a5a5a" stroke-width="0.5"/>
<line x1="108.4" y1="403.18" x2="110.2" y2="403.18" stroke="#5a5a5a" stroke-width="0.5"/>
<circle cx="109.3" cy="400.68" r="1.35" fill="none" stroke="#5a5a5a" stroke-width="0.75"/>
<circle cx="116.76" cy="403.12" r="1.35" fill="none" stroke="#5a5a5a" stroke-width="0.75"/>
<circle cx="124.23" cy="404.18" r="1.35" fill="none" stroke="#5a5a5a" stroke-width="0.75"/>
<circle cx="131.69" cy="405.18" r="1.35" fill="none" stroke="#5a5a5a" stroke-width="0.75"/>
<circle cx="139.16" cy="405.55" r="1.35" fill="none" stroke="#5a5a5a" stroke-width="0.75"/>
<line x1="64.5" y1="339.53" x2="64.5" y2="348.27" stroke="#d8479b" stroke-width="0.5"/>
<line x1="63.6" y1="339.53" x2="65.4" y2="339.53" stroke="#d8479b" stroke-width="0.5"/>
<line x1="63.6" y1="348.27" x2="65.4" y2="348.27" stroke="#d8479b" stroke-width="0.5"/>
<circle cx="64.5" cy="343.9" r="1.35" fill="none" stroke="#d8479b" stroke-width="0.75"/>
<circle cx="86.9" cy="358.13" r="1.35" fill="none" stroke="#d8479b" stroke-width="0.75"/>
<line x1="94.36" y1="362.99" x2="94.36" y2="366.74" stroke="#d8479b" stroke-width="0.5"/>
<line x1="93.46" y1="362.99" x2="95.26" y2="362.99" stroke="#d8479b" stroke-width="0.5"/>
<line x1="93.46" y1="366.74" x2="95.26" y2="366.74" stroke="#d8479b" stroke-width="0.5"/>
<circle cx="94.36" cy="364.87" r="1.35" fill="none" stroke="#d8479b" stroke-width="0.75"/>
<circle cx="101.83" cy="372.35" r="1.35" fill="none" stroke="#d8479b" stroke-width="0.75"/>
<circle cx="109.3" cy="386.46" r="1.35" fill="none" stroke="#d8479b" stroke-width="0.75"/>
<circle cx="116.76" cy="401.12" r="1.35" fill="none" stroke="#d8479b" stroke-width="0.75"/>
<circle cx="124.23" cy="404.49" r="1.35" fill="none" stroke="#d8479b" stroke-width="0.75"/>
<circle cx="131.69" cy="405.18" r="1.35" fill="none" stroke="#d8479b" stroke-width="0.75"/>
<circle cx="139.16" cy="405.18" r="1.35" fill="none" stroke="#d8479b" stroke-width="0.75"/>
<circle cx="146.63" cy="405.55" r="1.35" fill="none" stroke="#d8479b" stroke-width="0.75"/>
<circle cx="154.09" cy="405.86" r="1.35" fill="none" stroke="#d8479b" stroke-width="0.75"/>
<circle cx="161.56" cy="405.55" r="1.35" fill="none" stroke="#d8479b" stroke-width="0.75"/>
<text x="311.8" y="316.7" font-size="6.3" fill="#3c3c3c" font-weight="bold" text-anchor="middle" textLength="98.5" lengthAdjust="spacingAndGlyphs" class="o">DN7 titration BTK plus 100 μM</text>
<text x="311.8" y="324.7" font-size="6.3" fill="#3c3c3c" font-weight="bold" text-anchor="middle" textLength="42.5" lengthAdjust="spacingAndGlyphs" class="o">Pirtobrutinib</text>
<line x1="254.5" y1="406.7" x2="254.5" y2="331.42" stroke="#8a8a8a" stroke-width="0.8"/>
<line x1="252.3" y1="406.3" x2="366.49" y2="406.3" stroke="#8a8a8a" stroke-width="0.8"/>
<line x1="252.3" y1="406.3" x2="254.5" y2="406.3" stroke="#8a8a8a" stroke-width="0.6"/>
<line x1="253.1" y1="400.06" x2="254.5" y2="400.06" stroke="#8a8a8a" stroke-width="0.6"/>
<line x1="253.1" y1="393.82" x2="254.5" y2="393.82" stroke="#8a8a8a" stroke-width="0.6"/>
<line x1="253.1" y1="387.58" x2="254.5" y2="387.58" stroke="#8a8a8a" stroke-width="0.6"/>
<line x1="253.1" y1="381.34" x2="254.5" y2="381.34" stroke="#8a8a8a" stroke-width="0.6"/>
<line x1="252.3" y1="375.1" x2="254.5" y2="375.1" stroke="#8a8a8a" stroke-width="0.6"/>
<line x1="253.1" y1="368.86" x2="254.5" y2="368.86" stroke="#8a8a8a" stroke-width="0.6"/>
<line x1="253.1" y1="362.62" x2="254.5" y2="362.62" stroke="#8a8a8a" stroke-width="0.6"/>
<line x1="253.1" y1="356.38" x2="254.5" y2="356.38" stroke="#8a8a8a" stroke-width="0.6"/>
<line x1="253.1" y1="350.14" x2="254.5" y2="350.14" stroke="#8a8a8a" stroke-width="0.6"/>
<line x1="252.3" y1="343.9" x2="254.5" y2="343.9" stroke="#8a8a8a" stroke-width="0.6"/>
<line x1="253.1" y1="337.66" x2="254.5" y2="337.66" stroke="#8a8a8a" stroke-width="0.6"/>
<line x1="253.1" y1="331.42" x2="254.5" y2="331.42" stroke="#8a8a8a" stroke-width="0.6"/>
<line x1="273.17" y1="406.3" x2="273.17" y2="407.9" stroke="#8a8a8a" stroke-width="0.7"/>
<line x1="291.83" y1="406.3" x2="291.83" y2="409.5" stroke="#8a8a8a" stroke-width="0.7"/>
<line x1="310.5" y1="406.3" x2="310.5" y2="407.9" stroke="#8a8a8a" stroke-width="0.7"/>
<line x1="329.16" y1="406.3" x2="329.16" y2="409.5" stroke="#8a8a8a" stroke-width="0.7"/>
<line x1="347.82" y1="406.3" x2="347.82" y2="407.9" stroke="#8a8a8a" stroke-width="0.7"/>
<line x1="366.49" y1="406.3" x2="366.49" y2="409.5" stroke="#8a8a8a" stroke-width="0.7"/>
<text x="251.5" y="408.5" font-size="5.1" fill="#000" font-weight="bold" text-anchor="end" class="a">0</text>
<text x="251.5" y="377.3" font-size="5.1" fill="#000" font-weight="bold" text-anchor="end" class="a">50</text>
<text x="251.5" y="346.1" font-size="5.1" fill="#000" font-weight="bold" text-anchor="end" class="a">100</text>
<text x="291.83" y="416" font-size="5.1" fill="#000" font-weight="bold" text-anchor="middle" class="a">10</text>
<text x="329.16" y="416" font-size="5.1" fill="#000" font-weight="bold" text-anchor="middle" class="a">20</text>
<text x="366.49" y="416" font-size="5.1" fill="#000" font-weight="bold" text-anchor="middle" class="a">30</text>
<text x="310.6" y="427.7" font-size="6.3" fill="#3d3936" font-weight="normal" text-anchor="middle" textLength="63.1" lengthAdjust="spacingAndGlyphs" stroke="#3d3936" stroke-width="0.15" class="o">Denaturant Conc [%]</text>
<text transform="translate(234.7,370.8) rotate(-90)" x="0" y="0" font-size="6.3" fill="#3d3936" stroke="#3d3936" stroke-width="0.15" text-anchor="middle" class="o" textLength="70.4" lengthAdjust="spacingAndGlyphs">% Luminescence Signal</text>
<path d="M254.5,344.52 C255.74,344.89 259.48,345.72 261.97,346.71 C264.45,347.7 266.94,349.06 269.43,350.45 C271.92,351.85 274.41,353.51 276.9,355.07 C279.39,356.63 281.88,358.22 284.36,359.81 C286.85,361.4 289.34,362.8 291.83,364.62 C294.32,366.44 296.81,368.56 299.3,370.73 C301.78,372.91 304.27,375.22 306.76,377.66 C309.25,380.09 311.74,382.8 314.23,385.33 C316.72,387.87 319.21,390.59 321.69,392.88 C324.18,395.18 326.67,397.42 329.16,399.12 C331.65,400.83 334.14,402.15 336.63,403.12 C339.11,404.08 341.6,404.51 344.09,404.93 C346.58,405.34 350.31,405.5 351.56,405.61" fill="none" stroke="#6a6a6a" stroke-width="0.55"/>
<path d="M254.5,343.78 C256.37,344.63 261.97,347.2 265.7,348.89 C269.43,350.59 273.79,352.18 276.9,353.95 C280.01,355.71 281.88,357.77 284.36,359.5 C286.85,361.23 289.34,362.79 291.83,364.3 C294.32,365.82 296.81,367.2 299.3,368.61 C301.78,370.02 304.27,371.42 306.76,372.79 C309.25,374.16 311.74,375.51 314.23,376.85 C316.72,378.19 319.21,379.47 321.69,380.84 C324.18,382.21 326.67,383.65 329.16,385.08 C331.65,386.52 334.14,388.03 336.63,389.45 C339.11,390.88 341.6,392.33 344.09,393.63 C346.58,394.93 350.31,396.65 351.56,397.25" fill="none" stroke="#d8479b" stroke-width="0.7"/>
<circle cx="254.5" cy="343.9" r="1.35" fill="none" stroke="#5a5a5a" stroke-width="0.75"/>
<line x1="276.9" y1="355.63" x2="276.9" y2="360.62" stroke="#5a5a5a" stroke-width="0.5"/>
<line x1="276" y1="355.63" x2="277.8" y2="355.63" stroke="#5a5a5a" stroke-width="0.5"/>
<line x1="276" y1="360.62" x2="277.8" y2="360.62" stroke="#5a5a5a" stroke-width="0.5"/>
<circle cx="276.9" cy="358.13" r="1.35" fill="none" stroke="#5a5a5a" stroke-width="0.75"/>
<circle cx="284.36" cy="361.62" r="1.35" fill="none" stroke="#5a5a5a" stroke-width="0.75"/>
<circle cx="291.83" cy="363.74" r="1.35" fill="none" stroke="#5a5a5a" stroke-width="0.75"/>
<circle cx="299.3" cy="372.79" r="1.35" fill="none" stroke="#5a5a5a" stroke-width="0.75"/>
<circle cx="306.76" cy="378.78" r="1.35" fill="none" stroke="#5a5a5a" stroke-width="0.75"/>
<circle cx="314.23" cy="385.65" r="1.35" fill="none" stroke="#5a5a5a" stroke-width="0.75"/>
<circle cx="321.69" cy="395.13" r="1.35" fill="none" stroke="#5a5a5a" stroke-width="0.75"/>
<circle cx="329.16" cy="400.75" r="1.35" fill="none" stroke="#5a5a5a" stroke-width="0.75"/>
<circle cx="336.63" cy="403.49" r="1.35" fill="none" stroke="#5a5a5a" stroke-width="0.75"/>
<circle cx="344.09" cy="404.49" r="1.35" fill="none" stroke="#5a5a5a" stroke-width="0.75"/>
<circle cx="351.56" cy="405.18" r="1.35" fill="none" stroke="#5a5a5a" stroke-width="0.75"/>
<circle cx="254.5" cy="343.78" r="1.35" fill="none" stroke="#d8479b" stroke-width="0.75"/>
<line x1="276.9" y1="349.33" x2="276.9" y2="354.94" stroke="#d8479b" stroke-width="0.5"/>
<line x1="276" y1="349.33" x2="277.8" y2="349.33" stroke="#d8479b" stroke-width="0.5"/>
<line x1="276" y1="354.94" x2="277.8" y2="354.94" stroke="#d8479b" stroke-width="0.5"/>
<circle cx="276.9" cy="352.14" r="1.35" fill="none" stroke="#d8479b" stroke-width="0.75"/>
<circle cx="284.36" cy="361.18" r="1.35" fill="none" stroke="#d8479b" stroke-width="0.75"/>
<circle cx="291.83" cy="366.93" r="1.35" fill="none" stroke="#d8479b" stroke-width="0.75"/>
<line x1="299.3" y1="355.32" x2="299.3" y2="371.54" stroke="#d8479b" stroke-width="0.5"/>
<line x1="298.4" y1="355.32" x2="300.2" y2="355.32" stroke="#d8479b" stroke-width="0.5"/>
<line x1="298.4" y1="371.54" x2="300.2" y2="371.54" stroke="#d8479b" stroke-width="0.5"/>
<circle cx="299.3" cy="363.43" r="1.35" fill="none" stroke="#d8479b" stroke-width="0.75"/>
<line x1="306.76" y1="371.92" x2="306.76" y2="375.66" stroke="#d8479b" stroke-width="0.5"/>
<line x1="305.86" y1="371.92" x2="307.66" y2="371.92" stroke="#d8479b" stroke-width="0.5"/>
<line x1="305.86" y1="375.66" x2="307.66" y2="375.66" stroke="#d8479b" stroke-width="0.5"/>
<circle cx="306.76" cy="373.79" r="1.35" fill="none" stroke="#d8479b" stroke-width="0.75"/>
<circle cx="314.23" cy="377.41" r="1.35" fill="none" stroke="#d8479b" stroke-width="0.75"/>
<circle cx="321.69" cy="379.09" r="1.35" fill="none" stroke="#d8479b" stroke-width="0.75"/>
<circle cx="329.16" cy="384.65" r="1.35" fill="none" stroke="#d8479b" stroke-width="0.75"/>
<circle cx="336.63" cy="389.58" r="1.35" fill="none" stroke="#d8479b" stroke-width="0.75"/>
<circle cx="344.09" cy="394.69" r="1.35" fill="none" stroke="#d8479b" stroke-width="0.75"/>
<circle cx="351.56" cy="397.25" r="1.35" fill="none" stroke="#d8479b" stroke-width="0.75"/>
<text x="121.8" y="450.7" font-size="6.3" fill="#3c3c3c" font-weight="bold" text-anchor="middle" textLength="98.5" lengthAdjust="spacingAndGlyphs" class="o">DN4 titration BTK plus 100 μM</text>
<text x="121.8" y="458.7" font-size="6.3" fill="#3c3c3c" font-weight="bold" text-anchor="middle" textLength="42.5" lengthAdjust="spacingAndGlyphs" class="o">Pirtobrutinib</text>
<line x1="64.5" y1="537.8" x2="64.5" y2="462.52" stroke="#8a8a8a" stroke-width="0.8"/>
<line x1="62.3" y1="537.4" x2="176.49" y2="537.4" stroke="#8a8a8a" stroke-width="0.8"/>
<line x1="62.3" y1="537.4" x2="64.5" y2="537.4" stroke="#8a8a8a" stroke-width="0.6"/>
<line x1="63.1" y1="531.16" x2="64.5" y2="531.16" stroke="#8a8a8a" stroke-width="0.6"/>
<line x1="63.1" y1="524.92" x2="64.5" y2="524.92" stroke="#8a8a8a" stroke-width="0.6"/>
<line x1="63.1" y1="518.68" x2="64.5" y2="518.68" stroke="#8a8a8a" stroke-width="0.6"/>
<line x1="63.1" y1="512.44" x2="64.5" y2="512.44" stroke="#8a8a8a" stroke-width="0.6"/>
<line x1="62.3" y1="506.2" x2="64.5" y2="506.2" stroke="#8a8a8a" stroke-width="0.6"/>
<line x1="63.1" y1="499.96" x2="64.5" y2="499.96" stroke="#8a8a8a" stroke-width="0.6"/>
<line x1="63.1" y1="493.72" x2="64.5" y2="493.72" stroke="#8a8a8a" stroke-width="0.6"/>
<line x1="63.1" y1="487.48" x2="64.5" y2="487.48" stroke="#8a8a8a" stroke-width="0.6"/>
<line x1="63.1" y1="481.24" x2="64.5" y2="481.24" stroke="#8a8a8a" stroke-width="0.6"/>
<line x1="62.3" y1="475" x2="64.5" y2="475" stroke="#8a8a8a" stroke-width="0.6"/>
<line x1="63.1" y1="468.76" x2="64.5" y2="468.76" stroke="#8a8a8a" stroke-width="0.6"/>
<line x1="63.1" y1="462.52" x2="64.5" y2="462.52" stroke="#8a8a8a" stroke-width="0.6"/>
<line x1="83.16" y1="537.4" x2="83.16" y2="539" stroke="#8a8a8a" stroke-width="0.7"/>
<line x1="101.83" y1="537.4" x2="101.83" y2="540.6" stroke="#8a8a8a" stroke-width="0.7"/>
<line x1="120.5" y1="537.4" x2="120.5" y2="539" stroke="#8a8a8a" stroke-width="0.7"/>
<line x1="139.16" y1="537.4" x2="139.16" y2="540.6" stroke="#8a8a8a" stroke-width="0.7"/>
<line x1="157.82" y1="537.4" x2="157.82" y2="539" stroke="#8a8a8a" stroke-width="0.7"/>
<line x1="176.49" y1="537.4" x2="176.49" y2="540.6" stroke="#8a8a8a" stroke-width="0.7"/>
<text x="61.5" y="539.6" font-size="5.1" fill="#000" font-weight="bold" text-anchor="end" class="a">0</text>
<text x="61.5" y="508.4" font-size="5.1" fill="#000" font-weight="bold" text-anchor="end" class="a">50</text>
<text x="61.5" y="477.2" font-size="5.1" fill="#000" font-weight="bold" text-anchor="end" class="a">100</text>
<text x="101.83" y="547.1" font-size="5.1" fill="#000" font-weight="bold" text-anchor="middle" class="a">10</text>
<text x="139.16" y="547.1" font-size="5.1" fill="#000" font-weight="bold" text-anchor="middle" class="a">20</text>
<text x="176.49" y="547.1" font-size="5.1" fill="#000" font-weight="bold" text-anchor="middle" class="a">30</text>
<text x="121.4" y="561.9" font-size="6.3" fill="#3d3936" font-weight="normal" text-anchor="middle" textLength="63.1" lengthAdjust="spacingAndGlyphs" stroke="#3d3936" stroke-width="0.15" class="o">Denaturant Conc [%]</text>
<text transform="translate(44.7,504.5) rotate(-90)" x="0" y="0" font-size="6.3" fill="#3d3936" stroke="#3d3936" stroke-width="0.15" text-anchor="middle" class="o" textLength="70.4" lengthAdjust="spacingAndGlyphs">% Luminescence Signal</text>
<path d="M64.5,475 C65.74,475.26 69.48,475.21 71.97,476.56 C74.45,477.91 76.94,479.84 79.43,483.11 C81.92,486.39 84.41,491.22 86.9,496.22 C89.39,501.21 91.88,508.36 94.36,513.06 C96.85,517.76 99.34,521.11 101.83,524.42 C104.32,527.73 106.81,530.95 109.3,532.91 C111.78,534.86 114.27,535.47 116.76,536.15 C119.25,536.84 120.5,536.84 124.23,537.03 C127.96,537.21 132.94,537.23 139.16,537.28 C145.38,537.32 157.82,537.28 161.56,537.28" fill="none" stroke="#6a6a6a" stroke-width="0.55"/>
<path d="M64.5,475 C65.74,475.42 69.48,475.78 71.97,477.5 C74.45,479.21 76.94,481.92 79.43,485.3 C81.92,488.68 84.41,493.61 86.9,497.78 C89.39,501.95 91.88,506.58 94.36,510.32 C96.85,514.05 99.34,517.24 101.83,520.18 C104.32,523.11 106.81,525.68 109.3,527.92 C111.78,530.15 114.27,532.22 116.76,533.59 C119.25,534.97 121.74,535.6 124.23,536.15 C126.72,536.7 127.96,536.72 131.69,536.9 C135.43,537.08 141.65,537.15 146.63,537.21 C151.6,537.28 159.07,537.26 161.56,537.28" fill="none" stroke="#d8479b" stroke-width="0.7"/>
<circle cx="64.5" cy="475" r="1.35" fill="none" stroke="#5a5a5a" stroke-width="0.75"/>
<line x1="86.9" y1="492.91" x2="86.9" y2="507.88" stroke="#5a5a5a" stroke-width="0.5"/>
<line x1="86" y1="492.91" x2="87.8" y2="492.91" stroke="#5a5a5a" stroke-width="0.5"/>
<line x1="86" y1="507.88" x2="87.8" y2="507.88" stroke="#5a5a5a" stroke-width="0.5"/>
<circle cx="86.9" cy="500.4" r="1.35" fill="none" stroke="#5a5a5a" stroke-width="0.75"/>
<line x1="94.36" y1="513.75" x2="94.36" y2="518.74" stroke="#5a5a5a" stroke-width="0.5"/>
<line x1="93.46" y1="513.75" x2="95.26" y2="513.75" stroke="#5a5a5a" stroke-width="0.5"/>
<line x1="93.46" y1="518.74" x2="95.26" y2="518.74" stroke="#5a5a5a" stroke-width="0.5"/>
<circle cx="94.36" cy="516.25" r="1.35" fill="none" stroke="#5a5a5a" stroke-width="0.75"/>
<line x1="101.83" y1="521.36" x2="101.83" y2="532.6" stroke="#5a5a5a" stroke-width="0.5"/>
<line x1="100.93" y1="521.36" x2="102.73" y2="521.36" stroke="#5a5a5a" stroke-width="0.5"/>
<line x1="100.93" y1="532.6" x2="102.73" y2="532.6" stroke="#5a5a5a" stroke-width="0.5"/>
<circle cx="101.83" cy="526.98" r="1.35" fill="none" stroke="#5a5a5a" stroke-width="0.75"/>
<circle cx="109.3" cy="535.4" r="1.35" fill="none" stroke="#5a5a5a" stroke-width="0.75"/>
<circle cx="116.76" cy="536.4" r="1.35" fill="none" stroke="#5a5a5a" stroke-width="0.75"/>
<circle cx="124.23" cy="536.71" r="1.35" fill="none" stroke="#5a5a5a" stroke-width="0.75"/>
<circle cx="131.69" cy="535.4" r="1.35" fill="none" stroke="#5a5a5a" stroke-width="0.75"/>
<circle cx="139.16" cy="536.78" r="1.35" fill="none" stroke="#5a5a5a" stroke-width="0.75"/>
<circle cx="146.63" cy="536.78" r="1.35" fill="none" stroke="#5a5a5a" stroke-width="0.75"/>
<circle cx="154.09" cy="536.78" r="1.35" fill="none" stroke="#5a5a5a" stroke-width="0.75"/>
<circle cx="161.56" cy="536.78" r="1.35" fill="none" stroke="#5a5a5a" stroke-width="0.75"/>
<line x1="64.5" y1="471.26" x2="64.5" y2="478.74" stroke="#d8479b" stroke-width="0.5"/>
<line x1="63.6" y1="471.26" x2="65.4" y2="471.26" stroke="#d8479b" stroke-width="0.5"/>
<line x1="63.6" y1="478.74" x2="65.4" y2="478.74" stroke="#d8479b" stroke-width="0.5"/>
<circle cx="64.5" cy="475" r="1.35" fill="none" stroke="#d8479b" stroke-width="0.75"/>
<line x1="86.9" y1="498.65" x2="86.9" y2="503.64" stroke="#d8479b" stroke-width="0.5"/>
<line x1="86" y1="498.65" x2="87.8" y2="498.65" stroke="#d8479b" stroke-width="0.5"/>
<line x1="86" y1="503.64" x2="87.8" y2="503.64" stroke="#d8479b" stroke-width="0.5"/>
<circle cx="86.9" cy="501.15" r="1.35" fill="none" stroke="#d8479b" stroke-width="0.75"/>
<circle cx="94.36" cy="511.25" r="1.35" fill="none" stroke="#d8479b" stroke-width="0.75"/>
<line x1="101.83" y1="515.56" x2="101.83" y2="520.55" stroke="#d8479b" stroke-width="0.5"/>
<line x1="100.93" y1="515.56" x2="102.73" y2="515.56" stroke="#d8479b" stroke-width="0.5"/>
<line x1="100.93" y1="520.55" x2="102.73" y2="520.55" stroke="#d8479b" stroke-width="0.5"/>
<circle cx="101.83" cy="518.06" r="1.35" fill="none" stroke="#d8479b" stroke-width="0.75"/>
<line x1="109.3" y1="527.23" x2="109.3" y2="530.97" stroke="#d8479b" stroke-width="0.5"/>
<line x1="108.4" y1="527.23" x2="110.2" y2="527.23" stroke="#d8479b" stroke-width="0.5"/>
<line x1="108.4" y1="530.97" x2="110.2" y2="530.97" stroke="#d8479b" stroke-width="0.5"/>
<circle cx="109.3" cy="529.1" r="1.35" fill="none" stroke="#d8479b" stroke-width="0.75"/>
<circle cx="116.76" cy="536.4" r="1.35" fill="none" stroke="#d8479b" stroke-width="0.75"/>
<circle cx="124.23" cy="536.71" r="1.35" fill="none" stroke="#d8479b" stroke-width="0.75"/>
<circle cx="131.69" cy="537.09" r="1.35" fill="none" stroke="#d8479b" stroke-width="0.75"/>
<circle cx="139.16" cy="537.21" r="1.35" fill="none" stroke="#d8479b" stroke-width="0.75"/>
<circle cx="146.63" cy="537.21" r="1.35" fill="none" stroke="#d8479b" stroke-width="0.75"/>
<circle cx="154.09" cy="537.21" r="1.35" fill="none" stroke="#d8479b" stroke-width="0.75"/>
<circle cx="161.56" cy="537.21" r="1.35" fill="none" stroke="#d8479b" stroke-width="0.75"/>
<text x="311.8" y="450.7" font-size="6.3" fill="#3c3c3c" font-weight="bold" text-anchor="middle" textLength="98.5" lengthAdjust="spacingAndGlyphs" class="o">DN8 titration BTK plus 100 μM</text>
<text x="311.8" y="458.7" font-size="6.3" fill="#3c3c3c" font-weight="bold" text-anchor="middle" textLength="42.5" lengthAdjust="spacingAndGlyphs" class="o">Pirtobrutinib</text>
<line x1="254.5" y1="537.8" x2="254.5" y2="462.52" stroke="#8a8a8a" stroke-width="0.8"/>
<line x1="252.3" y1="537.4" x2="366.49" y2="537.4" stroke="#8a8a8a" stroke-width="0.8"/>
<line x1="252.3" y1="537.4" x2="254.5" y2="537.4" stroke="#8a8a8a" stroke-width="0.6"/>
<line x1="253.1" y1="531.16" x2="254.5" y2="531.16" stroke="#8a8a8a" stroke-width="0.6"/>
<line x1="253.1" y1="524.92" x2="254.5" y2="524.92" stroke="#8a8a8a" stroke-width="0.6"/>
<line x1="253.1" y1="518.68" x2="254.5" y2="518.68" stroke="#8a8a8a" stroke-width="0.6"/>
<line x1="253.1" y1="512.44" x2="254.5" y2="512.44" stroke="#8a8a8a" stroke-width="0.6"/>
<line x1="252.3" y1="506.2" x2="254.5" y2="506.2" stroke="#8a8a8a" stroke-width="0.6"/>
<line x1="253.1" y1="499.96" x2="254.5" y2="499.96" stroke="#8a8a8a" stroke-width="0.6"/>
<line x1="253.1" y1="493.72" x2="254.5" y2="493.72" stroke="#8a8a8a" stroke-width="0.6"/>
<line x1="253.1" y1="487.48" x2="254.5" y2="487.48" stroke="#8a8a8a" stroke-width="0.6"/>
<line x1="253.1" y1="481.24" x2="254.5" y2="481.24" stroke="#8a8a8a" stroke-width="0.6"/>
<line x1="252.3" y1="475" x2="254.5" y2="475" stroke="#8a8a8a" stroke-width="0.6"/>
<line x1="253.1" y1="468.76" x2="254.5" y2="468.76" stroke="#8a8a8a" stroke-width="0.6"/>
<line x1="253.1" y1="462.52" x2="254.5" y2="462.52" stroke="#8a8a8a" stroke-width="0.6"/>
<line x1="273.17" y1="537.4" x2="273.17" y2="539" stroke="#8a8a8a" stroke-width="0.7"/>
<line x1="291.83" y1="537.4" x2="291.83" y2="540.6" stroke="#8a8a8a" stroke-width="0.7"/>
<line x1="310.5" y1="537.4" x2="310.5" y2="539" stroke="#8a8a8a" stroke-width="0.7"/>
<line x1="329.16" y1="537.4" x2="329.16" y2="540.6" stroke="#8a8a8a" stroke-width="0.7"/>
<line x1="347.82" y1="537.4" x2="347.82" y2="539" stroke="#8a8a8a" stroke-width="0.7"/>
<line x1="366.49" y1="537.4" x2="366.49" y2="540.6" stroke="#8a8a8a" stroke-width="0.7"/>
<text x="251.5" y="539.6" font-size="5.1" fill="#000" font-weight="bold" text-anchor="end" class="a">0</text>
<text x="251.5" y="508.4" font-size="5.1" fill="#000" font-weight="bold" text-anchor="end" class="a">50</text>
<text x="251.5" y="477.2" font-size="5.1" fill="#000" font-weight="bold" text-anchor="end" class="a">100</text>
<text x="291.83" y="547.1" font-size="5.1" fill="#000" font-weight="bold" text-anchor="middle" class="a">10</text>
<text x="329.16" y="547.1" font-size="5.1" fill="#000" font-weight="bold" text-anchor="middle" class="a">20</text>
<text x="366.49" y="547.1" font-size="5.1" fill="#000" font-weight="bold" text-anchor="middle" class="a">30</text>
<text x="311.4" y="561.9" font-size="6.3" fill="#3d3936" font-weight="normal" text-anchor="middle" textLength="63.1" lengthAdjust="spacingAndGlyphs" stroke="#3d3936" stroke-width="0.15" class="o">Denaturant Conc [%]</text>
<text transform="translate(234.7,504.5) rotate(-90)" x="0" y="0" font-size="6.3" fill="#3d3936" stroke="#3d3936" stroke-width="0.15" text-anchor="middle" class="o" textLength="70.4" lengthAdjust="spacingAndGlyphs">% Luminescence Signal</text>
<path d="M254.5,475 C255.74,475.16 259.48,475.1 261.97,475.94 C264.45,476.77 267.57,478.48 269.43,479.99 C271.3,481.5 271.92,482.49 273.17,484.98 C274.41,487.48 275.65,491.02 276.9,494.97 C278.14,498.92 279.39,504.74 280.63,508.7 C281.88,512.65 283.12,515.87 284.36,518.68 C285.61,521.49 286.85,523.65 288.1,525.54 C289.34,527.44 289.96,528.46 291.83,530.04 C293.7,531.62 296.81,533.91 299.3,535.03 C301.78,536.15 304.27,536.42 306.76,536.78 C309.25,537.13 306.76,537.08 314.23,537.15 C321.69,537.22 345.34,537.2 351.56,537.21" fill="none" stroke="#6a6a6a" stroke-width="0.55"/>
<path d="M254.5,475 C255.74,475.1 259.48,475.1 261.97,475.62 C264.45,476.14 266.94,476.93 269.43,478.12 C271.92,479.31 274.41,480.24 276.9,482.74 C279.39,485.23 281.88,489.33 284.36,493.1 C286.85,496.86 289.34,501.17 291.83,505.33 C294.32,509.49 296.81,514.11 299.3,518.06 C301.78,522 304.27,526.17 306.76,528.98 C309.25,531.78 311.74,533.62 314.23,534.9 C316.72,536.18 319.21,536.29 321.69,536.65 C324.18,537.02 324.18,536.99 329.16,537.09 C334.14,537.18 347.82,537.19 351.56,537.21" fill="none" stroke="#d8479b" stroke-width="0.7"/>
<circle cx="254.5" cy="475" r="1.35" fill="none" stroke="#5a5a5a" stroke-width="0.75"/>
<circle cx="276.9" cy="501.4" r="1.35" fill="none" stroke="#5a5a5a" stroke-width="0.75"/>
<circle cx="284.36" cy="520.18" r="1.35" fill="none" stroke="#5a5a5a" stroke-width="0.75"/>
<circle cx="291.83" cy="531.47" r="1.35" fill="none" stroke="#5a5a5a" stroke-width="0.75"/>
<circle cx="299.3" cy="535.72" r="1.35" fill="none" stroke="#5a5a5a" stroke-width="0.75"/>
<circle cx="306.76" cy="536.4" r="1.35" fill="none" stroke="#5a5a5a" stroke-width="0.75"/>
<circle cx="314.23" cy="536.9" r="1.35" fill="none" stroke="#5a5a5a" stroke-width="0.75"/>
<circle cx="321.69" cy="537.15" r="1.35" fill="none" stroke="#5a5a5a" stroke-width="0.75"/>
<circle cx="329.16" cy="537.15" r="1.35" fill="none" stroke="#5a5a5a" stroke-width="0.75"/>
<circle cx="336.63" cy="537.15" r="1.35" fill="none" stroke="#5a5a5a" stroke-width="0.75"/>
<circle cx="344.09" cy="537.15" r="1.35" fill="none" stroke="#5a5a5a" stroke-width="0.75"/>
<circle cx="351.56" cy="537.15" r="1.35" fill="none" stroke="#5a5a5a" stroke-width="0.75"/>
<circle cx="254.5" cy="475" r="1.35" fill="none" stroke="#d8479b" stroke-width="0.75"/>
<line x1="276.9" y1="472.94" x2="276.9" y2="495.4" stroke="#d8479b" stroke-width="0.5"/>
<line x1="276" y1="472.94" x2="277.8" y2="472.94" stroke="#d8479b" stroke-width="0.5"/>
<line x1="276" y1="495.4" x2="277.8" y2="495.4" stroke="#d8479b" stroke-width="0.5"/>
<circle cx="276.9" cy="484.17" r="1.35" fill="none" stroke="#d8479b" stroke-width="0.75"/>
<circle cx="284.36" cy="499.02" r="1.35" fill="none" stroke="#d8479b" stroke-width="0.75"/>
<line x1="291.83" y1="503.33" x2="291.83" y2="510.82" stroke="#d8479b" stroke-width="0.5"/>
<line x1="290.93" y1="503.33" x2="292.73" y2="503.33" stroke="#d8479b" stroke-width="0.5"/>
<line x1="290.93" y1="510.82" x2="292.73" y2="510.82" stroke="#d8479b" stroke-width="0.5"/>
<circle cx="291.83" cy="507.07" r="1.35" fill="none" stroke="#d8479b" stroke-width="0.75"/>
<line x1="299.3" y1="515.12" x2="299.3" y2="523.86" stroke="#d8479b" stroke-width="0.5"/>
<line x1="298.4" y1="515.12" x2="300.2" y2="515.12" stroke="#d8479b" stroke-width="0.5"/>
<line x1="298.4" y1="523.86" x2="300.2" y2="523.86" stroke="#d8479b" stroke-width="0.5"/>
<circle cx="299.3" cy="519.49" r="1.35" fill="none" stroke="#d8479b" stroke-width="0.75"/>
<circle cx="306.76" cy="532.16" r="1.35" fill="none" stroke="#d8479b" stroke-width="0.75"/>
<circle cx="314.23" cy="536.71" r="1.35" fill="none" stroke="#d8479b" stroke-width="0.75"/>
<circle cx="321.69" cy="537.15" r="1.35" fill="none" stroke="#d8479b" stroke-width="0.75"/>
<circle cx="329.16" cy="537.15" r="1.35" fill="none" stroke="#d8479b" stroke-width="0.75"/>
<circle cx="336.63" cy="537.15" r="1.35" fill="none" stroke="#d8479b" stroke-width="0.75"/>
<circle cx="344.09" cy="537.15" r="1.35" fill="none" stroke="#d8479b" stroke-width="0.75"/>
<circle cx="351.56" cy="537.15" r="1.35" fill="none" stroke="#d8479b" stroke-width="0.75"/>
<text x="600.3" y="73.6" font-size="10.3" fill="#4d4d4d" font-weight="normal" text-anchor="middle" textLength="97" lengthAdjust="spacingAndGlyphs" stroke="#4d4d4d" stroke-width="0.68" class="o">p38α HIBIT-tagged</text>
<line x1="506.3" y1="91.6" x2="506.3" y2="214.9" stroke="#000" stroke-width="1.3"/>
<line x1="690.6" y1="91.6" x2="690.6" y2="214.9" stroke="#000" stroke-width="1.3"/>
<line x1="505.7" y1="214.3" x2="691.2" y2="214.3" stroke="#000" stroke-width="1.3"/>
<line x1="500.7" y1="183.5" x2="506.3" y2="183.5" stroke="#000" stroke-width="1.1"/>
<text x="499.2" y="186.5" font-size="8.5" fill="#111" font-weight="bold" text-anchor="end" textLength="24.6" lengthAdjust="spacingAndGlyphs" class="a">10000</text>
<line x1="500.7" y1="121.9" x2="506.3" y2="121.9" stroke="#000" stroke-width="1.1"/>
<text x="499.2" y="124.9" font-size="8.5" fill="#111" font-weight="bold" text-anchor="end" textLength="24.6" lengthAdjust="spacingAndGlyphs" class="a">20000</text>
<line x1="503.2" y1="152.7" x2="506.3" y2="152.7" stroke="#000" stroke-width="1.1"/>
<line x1="503.2" y1="91.1" x2="506.3" y2="91.1" stroke="#000" stroke-width="1.1"/>
<line x1="690.6" y1="214.3" x2="694.6" y2="214.3" stroke="#000" stroke-width="1.1"/>
<text x="697.2" y="217.3" font-size="8.5" fill="#111" font-weight="bold" text-anchor="start" class="a">0</text>
<line x1="690.6" y1="173.5" x2="694.6" y2="173.5" stroke="#000" stroke-width="1.1"/>
<text x="697.2" y="176.5" font-size="8.5" fill="#111" font-weight="bold" text-anchor="start" textLength="24.6" lengthAdjust="spacingAndGlyphs" class="a">10000</text>
<line x1="690.6" y1="132.7" x2="694.6" y2="132.7" stroke="#000" stroke-width="1.1"/>
<text x="697.2" y="135.7" font-size="8.5" fill="#111" font-weight="bold" text-anchor="start" textLength="24.6" lengthAdjust="spacingAndGlyphs" class="a">20000</text>
<line x1="690.6" y1="91.9" x2="694.6" y2="91.9" stroke="#000" stroke-width="1.1"/>
<text x="697.2" y="94.9" font-size="8.5" fill="#111" font-weight="bold" text-anchor="start" textLength="24.6" lengthAdjust="spacingAndGlyphs" class="a">30000</text>
<line x1="690.6" y1="193.9" x2="693" y2="193.9" stroke="#000" stroke-width="1.1"/>
<line x1="690.6" y1="153.1" x2="693" y2="153.1" stroke="#000" stroke-width="1.1"/>
<line x1="690.6" y1="112.3" x2="693" y2="112.3" stroke="#000" stroke-width="1.1"/>
<line x1="506.3" y1="214.3" x2="506.3" y2="219.6" stroke="#000" stroke-width="1.1"/>
<text x="506.3" y="229.7" font-size="8.5" fill="#111" font-weight="bold" text-anchor="middle" class="a">-12</text>
<line x1="543.14" y1="214.3" x2="543.14" y2="219.6" stroke="#000" stroke-width="1.1"/>
<text x="543.14" y="229.7" font-size="8.5" fill="#111" font-weight="bold" text-anchor="middle" class="a">-10</text>
<line x1="579.98" y1="214.3" x2="579.98" y2="219.6" stroke="#000" stroke-width="1.1"/>
<text x="579.98" y="229.7" font-size="8.5" fill="#111" font-weight="bold" text-anchor="middle" class="a">-8</text>
<line x1="616.82" y1="214.3" x2="616.82" y2="219.6" stroke="#000" stroke-width="1.1"/>
<text x="616.82" y="229.7" font-size="8.5" fill="#111" font-weight="bold" text-anchor="middle" class="a">-6</text>
<line x1="653.66" y1="214.3" x2="653.66" y2="219.6" stroke="#000" stroke-width="1.1"/>
<text x="653.66" y="229.7" font-size="8.5" fill="#111" font-weight="bold" text-anchor="middle" class="a">-4</text>
<line x1="690.5" y1="214.3" x2="690.5" y2="219.6" stroke="#000" stroke-width="1.1"/>
<text x="690.5" y="229.7" font-size="8.5" fill="#111" font-weight="bold" text-anchor="middle" class="a">-2</text>
<text x="600.2" y="245.9" font-size="8.9" fill="#585858" font-weight="normal" text-anchor="middle" textLength="72.6" lengthAdjust="spacingAndGlyphs" stroke="#585858" stroke-width="0.15" class="o">log [AMG-548], (M)</text>
<text transform="translate(461,153.5) rotate(-90)" x="0" y="3.11" font-size="8.9" fill="#585858" font-weight="normal" text-anchor="middle" class="o" stroke="#585858" stroke-width="0.15" textLength="68.5" lengthAdjust="spacingAndGlyphs">Protein peak area</text>
<text transform="translate(737.4,153.3) rotate(90)" x="0" y="3.11" font-size="8.9" fill="#585858" font-weight="normal" text-anchor="middle" class="o" stroke="#585858" stroke-width="0.15" textLength="57.7" lengthAdjust="spacingAndGlyphs">Luminescence</text>
<line x1="513.4" y1="100.2" x2="526" y2="100.2" stroke="#1794d0" stroke-width="0.8"/>
<circle cx="519.7" cy="100.2" r="1.9" fill="#1794d0"/>
<text x="532.7" y="102.6" font-size="8.9" fill="#585858" font-weight="normal" text-anchor="start" textLength="64" lengthAdjust="spacingAndGlyphs" stroke="#585858" stroke-width="0.15" class="o">Immunoblotting</text>
<line x1="513.4" y1="116.4" x2="526" y2="116.4" stroke="#e03a96" stroke-width="0.8"/>
<circle cx="519.7" cy="116.4" r="1.9" fill="#e03a96"/>
<text x="532.7" y="118.6" font-size="8.9" fill="#585858" font-weight="normal" text-anchor="start" textLength="56" lengthAdjust="spacingAndGlyphs" stroke="#585858" stroke-width="0.15" class="o">Luminescence</text>
<path d="M567.4,202.01 L568.12,201.89 L568.85,201.77 L569.57,201.63 L570.29,201.49 L571.01,201.34 L571.74,201.17 L572.46,201 L573.18,200.82 L573.9,200.62 L574.63,200.42 L575.35,200.2 L576.07,199.96 L576.79,199.72 L577.52,199.45 L578.24,199.17 L578.96,198.88 L579.69,198.57 L580.41,198.24 L581.13,197.88 L581.85,197.51 L582.58,197.12 L583.3,196.71 L584.02,196.27 L584.74,195.81 L585.47,195.32 L586.19,194.81 L586.91,194.27 L587.64,193.7 L588.36,193.11 L589.08,192.48 L589.8,191.83 L590.53,191.14 L591.25,190.42 L591.97,189.67 L592.69,188.88 L593.42,188.07 L594.14,187.21 L594.86,186.33 L595.58,185.41 L596.31,184.46 L597.03,183.47 L597.75,182.45 L598.48,181.4 L599.2,180.31 L599.92,179.2 L600.64,178.05 L601.37,176.88 L602.09,175.68 L602.81,174.45 L603.53,173.21 L604.26,171.94 L604.98,170.65 L605.7,169.35 L606.43,168.03 L607.15,166.7 L607.87,165.37 L608.59,164.03 L609.32,162.68 L610.04,161.34 L610.76,160 L611.48,158.67 L612.21,157.34 L612.93,156.03 L613.65,154.73 L614.37,153.45 L615.1,152.19 L615.82,150.95 L616.54,149.73 L617.27,148.54 L617.99,147.38 L618.71,146.24 L619.43,145.14 L620.16,144.06 L620.88,143.02 L621.6,142.01 L622.32,141.03 L623.05,140.09 L623.77,139.18 L624.49,138.31 L625.22,137.47 L625.94,136.66 L626.66,135.89 L627.38,135.15 L628.11,134.44 L628.83,133.76 L629.55,133.11 L630.27,132.5 L631,131.91 L631.72,131.35 L632.44,130.82 L633.16,130.32 L633.89,129.84 L634.61,129.39 L635.33,128.96 L636.06,128.55 L636.78,128.16 L637.5,127.8 L638.22,127.46 L638.95,127.13 L639.67,126.82 L640.39,126.53 L641.11,126.26 L641.84,126 L642.56,125.76 L643.28,125.53 L644.01,125.32 L644.73,125.11 L645.45,124.92 L646.17,124.74 L646.9,124.57 L647.62,124.42 L648.34,124.27 L649.06,124.13 L649.79,123.99 L650.51,123.87 L651.23,123.75 L651.95,123.64 L652.68,123.54 L653.4,123.45" fill="none" stroke="#1794d0" stroke-width="0.85"/>
<path d="M543.1,204.8 L543.79,204.8 L544.49,204.8 L545.18,204.8 L545.87,204.8 L546.57,204.8 L547.26,204.8 L547.96,204.8 L548.65,204.8 L549.34,204.8 L550.04,204.8 L550.73,204.8 L551.42,204.8 L552.12,204.8 L552.81,204.8 L553.51,204.8 L554.2,204.8 L554.89,204.8 L555.59,204.8 L556.28,204.8 L556.97,204.8 L557.67,204.8 L558.36,204.8 L559.06,204.8 L559.75,204.8 L560.44,204.8 L561.14,204.8 L561.83,204.79 L562.52,204.79 L563.22,204.79 L563.91,204.79 L564.61,204.79 L565.3,204.79 L565.99,204.79 L566.69,204.78 L567.38,204.78 L568.07,204.78 L568.77,204.77 L569.46,204.77 L570.15,204.76 L570.85,204.76 L571.54,204.75 L572.24,204.74 L572.93,204.74 L573.62,204.72 L574.32,204.71 L575.01,204.7 L575.7,204.68 L576.4,204.66 L577.09,204.64 L577.79,204.61 L578.48,204.58 L579.17,204.55 L579.87,204.51 L580.56,204.46 L581.25,204.41 L581.95,204.34 L582.64,204.27 L583.34,204.18 L584.03,204.08 L584.72,203.97 L585.42,203.83 L586.11,203.68 L586.8,203.5 L587.5,203.29 L588.19,203.05 L588.88,202.77 L589.58,202.45 L590.27,202.08 L590.97,201.65 L591.66,201.16 L592.35,200.6 L593.05,199.95 L593.74,199.22 L594.43,198.38 L595.13,197.42 L595.82,196.34 L596.52,195.12 L597.21,193.74 L597.9,192.21 L598.6,190.5 L599.29,188.61 L599.98,186.54 L600.68,184.27 L601.37,181.83 L602.07,179.2 L602.76,176.42 L603.45,173.48 L604.15,170.43 L604.84,167.28 L605.53,164.07 L606.23,160.84 L606.92,157.62 L607.62,154.45 L608.31,151.35 L609,148.38 L609.7,145.54 L610.39,142.85 L611.08,140.35 L611.78,138.02 L612.47,135.88 L613.16,133.93 L613.86,132.16 L614.55,130.57 L615.25,129.14 L615.94,127.87 L616.63,126.74 L617.33,125.74 L618.02,124.86 L618.71,124.09 L619.41,123.41 L620.1,122.82 L620.8,122.31 L621.49,121.86 L622.18,121.47 L622.88,121.13 L623.57,120.84 L624.26,120.59 L624.96,120.37 L625.65,120.18 L626.35,120.02 L627.04,119.88 L627.73,119.75 L628.43,119.65 L629.12,119.56 L629.81,119.48 L630.51,119.41 L631.2,119.36 L631.89,119.31 L632.59,119.26 L633.28,119.23 L633.98,119.2 L634.67,119.17 L635.36,119.14 L636.06,119.12 L636.75,119.11 L637.44,119.09 L638.14,119.08 L638.83,119.07 L639.53,119.06 L640.22,119.05 L640.91,119.04 L641.61,119.04 L642.3,119.03 L642.99,119.03 L643.69,119.02 L644.38,119.02 L645.08,119.02 L645.77,119.02 L646.46,119.01 L647.16,119.01 L647.85,119.01 L648.54,119.01 L649.24,119.01 L649.93,119.01 L650.63,119.01 L651.32,119 L652.01,119 L652.71,119 L653.4,119" fill="none" stroke="#e03a96" stroke-width="0.8"/>
<line x1="567.4" y1="199.5" x2="567.4" y2="204.9" stroke="#e03a96" stroke-width="0.7"/>
<line x1="565.9" y1="199.5" x2="568.9" y2="199.5" stroke="#e03a96" stroke-width="0.7"/>
<line x1="565.9" y1="204.9" x2="568.9" y2="204.9" stroke="#e03a96" stroke-width="0.7"/>
<line x1="579.9" y1="193.4" x2="579.9" y2="203" stroke="#e03a96" stroke-width="0.7"/>
<line x1="578.4" y1="193.4" x2="581.4" y2="193.4" stroke="#e03a96" stroke-width="0.7"/>
<line x1="578.4" y1="203" x2="581.4" y2="203" stroke="#e03a96" stroke-width="0.7"/>
<line x1="604.1" y1="164.7" x2="604.1" y2="171.4" stroke="#e03a96" stroke-width="0.7"/>
<line x1="602.6" y1="164.7" x2="605.6" y2="164.7" stroke="#e03a96" stroke-width="0.7"/>
<line x1="602.6" y1="171.4" x2="605.6" y2="171.4" stroke="#e03a96" stroke-width="0.7"/>
<line x1="616.7" y1="124.1" x2="616.7" y2="132.2" stroke="#e03a96" stroke-width="0.7"/>
<line x1="615.2" y1="124.1" x2="618.2" y2="124.1" stroke="#e03a96" stroke-width="0.7"/>
<line x1="615.2" y1="132.2" x2="618.2" y2="132.2" stroke="#e03a96" stroke-width="0.7"/>
<line x1="628.6" y1="109.5" x2="628.6" y2="120" stroke="#e03a96" stroke-width="0.7"/>
<line x1="627.1" y1="109.5" x2="630.1" y2="109.5" stroke="#e03a96" stroke-width="0.7"/>
<line x1="627.1" y1="120" x2="630.1" y2="120" stroke="#e03a96" stroke-width="0.7"/>
<line x1="641" y1="111.5" x2="641" y2="115.4" stroke="#e03a96" stroke-width="0.7"/>
<line x1="639.5" y1="111.5" x2="642.5" y2="111.5" stroke="#e03a96" stroke-width="0.7"/>
<line x1="639.5" y1="115.4" x2="642.5" y2="115.4" stroke="#e03a96" stroke-width="0.7"/>
<circle cx="543.1" cy="208.2" r="2.0" fill="#e03a96"/>
<circle cx="555.1" cy="205.7" r="2.0" fill="#e03a96"/>
<circle cx="567.4" cy="202.2" r="2.0" fill="#e03a96"/>
<circle cx="592" cy="203.8" r="2.0" fill="#e03a96"/>
<circle cx="604.1" cy="168" r="2.0" fill="#e03a96"/>
<circle cx="616.7" cy="128" r="2.0" fill="#e03a96"/>
<circle cx="628.6" cy="117.8" r="2.0" fill="#e03a96"/>
<circle cx="641" cy="113.6" r="2.0" fill="#e03a96"/>
<circle cx="653.1" cy="126.6" r="2.0" fill="#e03a96"/>
<circle cx="579.9" cy="203" r="2.0" fill="#f0a6c8"/>
<circle cx="567.4" cy="206.2" r="2.0" fill="#1794d0"/>
<circle cx="579.9" cy="198.4" r="2.0" fill="#1794d0"/>
<circle cx="592" cy="184" r="2.0" fill="#1794d0"/>
<circle cx="604.1" cy="178.5" r="2.0" fill="#1794d0"/>
<circle cx="616.6" cy="149" r="2.0" fill="#1794d0"/>
<circle cx="628.6" cy="124.9" r="2.0" fill="#1794d0"/>
<circle cx="641" cy="131.1" r="2.0" fill="#1794d0"/>
<circle cx="653.1" cy="122.4" r="2.0" fill="#1794d0"/>
<text x="604.3" y="270.5" font-size="10.1" fill="#4d4d4d" font-weight="normal" text-anchor="middle" textLength="98.5" lengthAdjust="spacingAndGlyphs" stroke="#4d4d4d" stroke-width="0.68" class="o">HIBIT-tagged hBTK</text>
<line x1="507.8" y1="290.6" x2="507.8" y2="409.1" stroke="#555" stroke-width="1.4"/>
<line x1="502.6" y1="408.5" x2="683.8" y2="408.5" stroke="#000" stroke-width="1.3"/>
<line x1="502.6" y1="408.5" x2="507.8" y2="408.5" stroke="#222" stroke-width="1.1"/>
<text x="501.6" y="411.3" font-size="8.7" fill="#111" font-weight="bold" text-anchor="end" class="a">0</text>
<line x1="502.6" y1="369.26" x2="507.8" y2="369.26" stroke="#222" stroke-width="1.1"/>
<text x="501.6" y="372.06" font-size="8.7" fill="#111" font-weight="bold" text-anchor="end" class="a">50</text>
<line x1="502.6" y1="330.03" x2="507.8" y2="330.03" stroke="#222" stroke-width="1.1"/>
<text x="501.6" y="332.83" font-size="8.7" fill="#111" font-weight="bold" text-anchor="end" class="a">100</text>
<line x1="502.6" y1="290.8" x2="507.8" y2="290.8" stroke="#222" stroke-width="1.1"/>
<text x="501.6" y="293.6" font-size="8.7" fill="#111" font-weight="bold" text-anchor="end" class="a">150</text>
<line x1="507.8" y1="408.5" x2="507.8" y2="413" stroke="#333" stroke-width="1.1"/>
<text x="507.8" y="422.6" font-size="8.7" fill="#111" font-weight="bold" text-anchor="middle" class="a">-12</text>
<line x1="543" y1="408.5" x2="543" y2="413" stroke="#333" stroke-width="1.1"/>
<text x="543" y="422.6" font-size="8.7" fill="#111" font-weight="bold" text-anchor="middle" class="a">-10</text>
<line x1="578.2" y1="408.5" x2="578.2" y2="413" stroke="#333" stroke-width="1.1"/>
<text x="578.2" y="422.6" font-size="8.7" fill="#111" font-weight="bold" text-anchor="middle" class="a">-8</text>
<line x1="613.4" y1="408.5" x2="613.4" y2="413" stroke="#333" stroke-width="1.1"/>
<text x="613.4" y="422.6" font-size="8.7" fill="#111" font-weight="bold" text-anchor="middle" class="a">-6</text>
<line x1="648.6" y1="408.5" x2="648.6" y2="413" stroke="#333" stroke-width="1.1"/>
<text x="648.6" y="422.6" font-size="8.7" fill="#111" font-weight="bold" text-anchor="middle" class="a">-4</text>
<line x1="683.8" y1="408.5" x2="683.8" y2="413" stroke="#333" stroke-width="1.1"/>
<text x="683.8" y="422.6" font-size="8.7" fill="#111" font-weight="bold" text-anchor="middle" class="a">-2</text>
<text x="600.4" y="443.1" font-size="8.7" fill="#585858" font-weight="normal" text-anchor="middle" textLength="86.1" lengthAdjust="spacingAndGlyphs" stroke="#585858" stroke-width="0.15" class="o">Log [Pirtobrutinib] (M)</text>
<text transform="translate(461.3,352.4) rotate(-90)" x="0" y="3.04" font-size="8.7" fill="#585858" font-weight="normal" text-anchor="middle" class="o" stroke="#585858" stroke-width="0.15" textLength="134.2" lengthAdjust="spacingAndGlyphs">% Luminescence Signal Remaining</text>
<path d="M525.5,401.3 L526.27,401.3 L527.05,401.3 L527.82,401.3 L528.6,401.3 L529.37,401.3 L530.15,401.3 L530.92,401.3 L531.69,401.3 L532.47,401.3 L533.24,401.3 L534.02,401.3 L534.79,401.3 L535.56,401.3 L536.34,401.3 L537.11,401.3 L537.89,401.3 L538.66,401.3 L539.44,401.3 L540.21,401.3 L540.98,401.3 L541.76,401.3 L542.53,401.3 L543.31,401.3 L544.08,401.3 L544.86,401.3 L545.63,401.3 L546.4,401.3 L547.18,401.3 L547.95,401.3 L548.73,401.3 L549.5,401.3 L550.27,401.3 L551.05,401.3 L551.82,401.3 L552.6,401.3 L553.37,401.3 L554.15,401.3 L554.92,401.3 L555.69,401.3 L556.47,401.3 L557.24,401.3 L558.02,401.3 L558.79,401.3 L559.57,401.3 L560.34,401.3 L561.11,401.3 L561.89,401.3 L562.66,401.3 L563.44,401.3 L564.21,401.3 L564.98,401.3 L565.76,401.3 L566.53,401.3 L567.31,401.3 L568.08,401.3 L568.86,401.3 L569.63,401.3 L570.4,401.3 L571.18,401.3 L571.95,401.3 L572.73,401.3 L573.5,401.3 L574.28,401.3 L575.05,401.3 L575.82,401.3 L576.6,401.3 L577.37,401.3 L578.15,401.3 L578.92,401.3 L579.69,401.3 L580.47,401.3 L581.24,401.3 L582.02,401.3 L582.79,401.3 L583.57,401.3 L584.34,401.3 L585.11,401.3 L585.89,401.3 L586.66,401.3 L587.44,401.3 L588.21,401.3 L588.99,401.3 L589.76,401.3 L590.53,401.3 L591.31,401.29 L592.08,401.29 L592.86,401.29 L593.63,401.29 L594.41,401.29 L595.18,401.28 L595.95,401.28 L596.73,401.27 L597.5,401.27 L598.28,401.26 L599.05,401.25 L599.82,401.24 L600.6,401.22 L601.37,401.2 L602.15,401.18 L602.92,401.15 L603.7,401.11 L604.47,401.07 L605.24,401.01 L606.02,400.94 L606.79,400.85 L607.57,400.73 L608.34,400.6 L609.12,400.42 L609.89,400.21 L610.66,399.94 L611.44,399.61 L612.21,399.21 L612.99,398.71 L613.76,398.09 L614.53,397.34 L615.31,396.42 L616.08,395.3 L616.86,393.95 L617.63,392.34 L618.41,390.43 L619.18,388.19 L619.95,385.6 L620.73,382.64 L621.5,379.31 L622.28,375.65 L623.05,371.7 L623.83,367.52 L624.6,363.22 L625.37,358.9 L626.15,354.64 L626.92,350.57 L627.7,346.75 L628.47,343.24 L629.24,340.09 L630.02,337.31 L630.79,334.88 L631.57,332.81 L632.34,331.05 L633.12,329.57 L633.89,328.33 L634.66,327.32 L635.44,326.48 L636.21,325.8 L636.99,325.24 L637.76,324.79 L638.54,324.42 L639.31,324.12 L640.08,323.88 L640.86,323.69 L641.63,323.53 L642.41,323.41 L643.18,323.31 L643.95,323.23 L644.73,323.16 L645.5,323.11 L646.28,323.07 L647.05,323.04 L647.83,323.01 L648.6,322.99" fill="none" stroke="#1794d0" stroke-width="1.0"/>
<line x1="554.5" y1="400.4" x2="554.5" y2="407.4" stroke="#1794d0" stroke-width="0.7"/>
<line x1="553" y1="400.4" x2="556" y2="400.4" stroke="#1794d0" stroke-width="0.7"/>
<line x1="553" y1="407.4" x2="556" y2="407.4" stroke="#1794d0" stroke-width="0.7"/>
<line x1="566.5" y1="388.7" x2="566.5" y2="395.1" stroke="#1794d0" stroke-width="0.7"/>
<line x1="565" y1="388.7" x2="568" y2="388.7" stroke="#1794d0" stroke-width="0.7"/>
<line x1="565" y1="395.1" x2="568" y2="395.1" stroke="#1794d0" stroke-width="0.7"/>
<line x1="624.9" y1="350.4" x2="624.9" y2="375.2" stroke="#7cc3e6" stroke-width="0.7"/>
<line x1="623.4" y1="350.4" x2="626.4" y2="350.4" stroke="#7cc3e6" stroke-width="0.7"/>
<line x1="623.4" y1="375.2" x2="626.4" y2="375.2" stroke="#7cc3e6" stroke-width="0.7"/>
<circle cx="525.5" cy="403.4" r="2.5" fill="#1794d0"/>
<circle cx="554.5" cy="407.4" r="2.5" fill="#1794d0"/>
<circle cx="566.5" cy="391.8" r="2.5" fill="#1794d0"/>
<circle cx="578" cy="405.8" r="2.5" fill="#1794d0"/>
<circle cx="589.6" cy="405.2" r="2.5" fill="#1794d0"/>
<circle cx="601.6" cy="397.3" r="2.5" fill="#1794d0"/>
<circle cx="613.3" cy="397.7" r="2.5" fill="#1794d0"/>
<circle cx="624.9" cy="362.9" r="2.5" fill="#1794d0"/>
<circle cx="636.7" cy="320.1" r="2.5" fill="#1794d0"/>
<circle cx="648.6" cy="327.6" r="2.5" fill="#1794d0"/>
<text x="978.5" y="74.7" font-size="10.3" fill="#4d4d4d" font-weight="normal" text-anchor="middle" textLength="161.5" lengthAdjust="spacingAndGlyphs" stroke="#4d4d4d" stroke-width="0.68" class="o">HIBIT-tagged KRAS (WIld Type)</text>
<line x1="889.3" y1="97.6" x2="889.3" y2="207.4" stroke="#333" stroke-width="1.2"/>
<line x1="884.6" y1="206.8" x2="1053.6" y2="206.8" stroke="#4a4a4a" stroke-width="1.7"/>
<line x1="885" y1="206.8" x2="889.3" y2="206.8" stroke="#333" stroke-width="1.1"/>
<text x="884" y="209.8" font-size="8.3" fill="#111" font-weight="bold" text-anchor="end" class="a">0</text>
<line x1="885" y1="188.65" x2="889.3" y2="188.65" stroke="#333" stroke-width="1.1"/>
<text x="884" y="191.65" font-size="8.3" fill="#111" font-weight="bold" text-anchor="end" class="a">20</text>
<line x1="885" y1="170.5" x2="889.3" y2="170.5" stroke="#333" stroke-width="1.1"/>
<text x="884" y="173.5" font-size="8.3" fill="#111" font-weight="bold" text-anchor="end" class="a">40</text>
<line x1="885" y1="152.35" x2="889.3" y2="152.35" stroke="#333" stroke-width="1.1"/>
<text x="884" y="155.35" font-size="8.3" fill="#111" font-weight="bold" text-anchor="end" class="a">60</text>
<line x1="885" y1="134.2" x2="889.3" y2="134.2" stroke="#333" stroke-width="1.1"/>
<text x="884" y="137.2" font-size="8.3" fill="#111" font-weight="bold" text-anchor="end" class="a">80</text>
<line x1="885" y1="116.05" x2="889.3" y2="116.05" stroke="#333" stroke-width="1.1"/>
<text x="884" y="119.05" font-size="8.3" fill="#111" font-weight="bold" text-anchor="end" class="a">100</text>
<line x1="885" y1="97.9" x2="889.3" y2="97.9" stroke="#333" stroke-width="1.1"/>
<text x="884" y="100.9" font-size="8.3" fill="#111" font-weight="bold" text-anchor="end" class="a">120</text>
<line x1="889.3" y1="206.8" x2="889.3" y2="211.4" stroke="#333" stroke-width="1.1"/>
<text x="889.3" y="220.9" font-size="8.3" fill="#111" font-weight="bold" text-anchor="middle" class="a">-12</text>
<line x1="922.12" y1="206.8" x2="922.12" y2="211.4" stroke="#333" stroke-width="1.1"/>
<text x="922.12" y="220.9" font-size="8.3" fill="#111" font-weight="bold" text-anchor="middle" class="a">-10</text>
<line x1="954.94" y1="206.8" x2="954.94" y2="211.4" stroke="#333" stroke-width="1.1"/>
<text x="954.94" y="220.9" font-size="8.3" fill="#111" font-weight="bold" text-anchor="middle" class="a">-8</text>
<line x1="987.76" y1="206.8" x2="987.76" y2="211.4" stroke="#333" stroke-width="1.1"/>
<text x="987.76" y="220.9" font-size="8.3" fill="#111" font-weight="bold" text-anchor="middle" class="a">-6</text>
<line x1="1020.58" y1="206.8" x2="1020.58" y2="211.4" stroke="#333" stroke-width="1.1"/>
<text x="1020.58" y="220.9" font-size="8.3" fill="#111" font-weight="bold" text-anchor="middle" class="a">-4</text>
<line x1="1053.4" y1="206.8" x2="1053.4" y2="211.4" stroke="#333" stroke-width="1.1"/>
<text x="1053.4" y="220.9" font-size="8.3" fill="#111" font-weight="bold" text-anchor="middle" class="a">-2</text>
<text x="970.2" y="243.8" font-size="8.7" fill="#585858" font-weight="normal" text-anchor="middle" textLength="80.7" lengthAdjust="spacingAndGlyphs" stroke="#585858" stroke-width="0.15" class="o">Log [Compound] (M)</text>
<text transform="translate(851.6,155.7) rotate(-90)" x="0" y="3.04" font-size="8.7" fill="#585858" font-weight="normal" text-anchor="middle" class="o" stroke="#585858" stroke-width="0.15" textLength="133.5" lengthAdjust="spacingAndGlyphs">% Luminescence Signal Remaining</text>
<line x1="1024.9" y1="91.3" x2="1036.8" y2="91.3" stroke="#ec1a80" stroke-width="0.8"/>
<circle cx="1030.6" cy="91.3" r="2.4" fill="#ec1a80"/>
<text x="1045.9" y="92.9" font-size="8.5" fill="#585858" font-weight="normal" text-anchor="start" textLength="39.3" lengthAdjust="spacingAndGlyphs" stroke="#585858" stroke-width="0.15" class="o">Adagrasib</text>
<line x1="1024.9" y1="105.6" x2="1036.8" y2="105.6" stroke="#1794d0" stroke-width="0.8"/>
<circle cx="1030.6" cy="105.6" r="2.4" fill="#1794d0"/>
<text x="1045.9" y="109.9" font-size="8.5" fill="#585858" font-weight="normal" text-anchor="start" textLength="29.2" lengthAdjust="spacingAndGlyphs" stroke="#585858" stroke-width="0.15" class="o">BI-2865</text>
<path d="M906.2,206.2 C910.73,206.1 925.25,205.8 933.4,205.6 C941.55,205.4 949.67,205.22 955.1,205 C960.53,204.78 962.37,204.58 966,204.3 C969.63,204.02 973.25,203.68 976.9,203.3 C980.55,202.92 984.27,202.57 987.9,202 C991.53,201.43 995.08,200.57 998.7,199.9 C1002.32,199.23 1005.97,198.62 1009.6,198 C1013.23,197.38 1018.68,196.5 1020.5,196.2" fill="none" stroke="#ec1a80" stroke-width="0.9"/>
<path d="M987.3,207.4 C988.25,207.22 991.1,206.97 993,206.3 C994.9,205.63 996.93,204.95 998.7,203.4 C1000.47,201.85 1001.78,200.38 1003.6,197 C1005.42,193.62 1007.85,188.1 1009.6,183.1 C1011.35,178.1 1012.28,173.5 1014.1,167 C1015.92,160.5 1019.43,147.92 1020.5,144.1" fill="none" stroke="#1794d0" stroke-width="0.9"/>
<line x1="1009.6" y1="196.2" x2="1009.6" y2="202.2" stroke="#ec1a80" stroke-width="0.7"/>
<line x1="1008.1" y1="196.2" x2="1011.1" y2="196.2" stroke="#ec1a80" stroke-width="0.7"/>
<line x1="1008.1" y1="202.2" x2="1011.1" y2="202.2" stroke="#ec1a80" stroke-width="0.7"/>
<circle cx="998.7" cy="202.9" r="2.4" fill="#1794d0"/>
<circle cx="1009.6" cy="183.1" r="2.4" fill="#1794d0"/>
<circle cx="1020.5" cy="144.1" r="2.4" fill="#1794d0"/>
<circle cx="906.2" cy="204.7" r="2.4" fill="#ec1a80"/>
<circle cx="933.4" cy="205.2" r="2.4" fill="#ec1a80"/>
<circle cx="944.1" cy="206.6" r="2.4" fill="#ec1a80"/>
<circle cx="955.1" cy="205.9" r="2.4" fill="#ec1a80"/>
<circle cx="966" cy="203.7" r="2.4" fill="#ec1a80"/>
<circle cx="976.9" cy="204.7" r="2.4" fill="#ec1a80"/>
<circle cx="987.9" cy="203.4" r="2.4" fill="#ec1a80"/>
<circle cx="998.7" cy="199.2" r="2.4" fill="#ec1a80"/>
<circle cx="1009.6" cy="198.9" r="2.4" fill="#ec1a80"/>
<circle cx="1020.5" cy="196.2" r="2.4" fill="#ec1a80"/>
<text x="978.1" y="274.4" font-size="10.3" fill="#4d4d4d" font-weight="normal" text-anchor="middle" textLength="128.2" lengthAdjust="spacingAndGlyphs" stroke="#4d4d4d" stroke-width="0.68" class="o">HIBIT-tagged KRAS G12C</text>
<line x1="892.3" y1="291.6" x2="892.3" y2="406.3" stroke="#333" stroke-width="1.2"/>
<line x1="891.7" y1="405.7" x2="1063.9" y2="405.7" stroke="#333" stroke-width="1.5"/>
<line x1="888" y1="401.6" x2="892.3" y2="401.6" stroke="#333" stroke-width="1.1"/>
<text x="886.9" y="404.6" font-size="8.5" fill="#111" font-weight="bold" text-anchor="end" class="a">0</text>
<line x1="888" y1="383.35" x2="892.3" y2="383.35" stroke="#333" stroke-width="1.1"/>
<text x="886.9" y="386.35" font-size="8.5" fill="#111" font-weight="bold" text-anchor="end" class="a">20</text>
<line x1="888" y1="365.1" x2="892.3" y2="365.1" stroke="#333" stroke-width="1.1"/>
<text x="886.9" y="368.1" font-size="8.5" fill="#111" font-weight="bold" text-anchor="end" class="a">40</text>
<line x1="888" y1="346.85" x2="892.3" y2="346.85" stroke="#333" stroke-width="1.1"/>
<text x="886.9" y="349.85" font-size="8.5" fill="#111" font-weight="bold" text-anchor="end" class="a">60</text>
<line x1="888" y1="328.6" x2="892.3" y2="328.6" stroke="#333" stroke-width="1.1"/>
<text x="886.9" y="331.6" font-size="8.5" fill="#111" font-weight="bold" text-anchor="end" class="a">80</text>
<line x1="888" y1="310.35" x2="892.3" y2="310.35" stroke="#333" stroke-width="1.1"/>
<text x="886.9" y="313.35" font-size="8.5" fill="#111" font-weight="bold" text-anchor="end" class="a">100</text>
<line x1="888" y1="292.1" x2="892.3" y2="292.1" stroke="#333" stroke-width="1.1"/>
<text x="886.9" y="295.1" font-size="8.5" fill="#111" font-weight="bold" text-anchor="end" class="a">120</text>
<line x1="892.3" y1="405.7" x2="892.3" y2="410.2" stroke="#333" stroke-width="1.1"/>
<text x="892.3" y="420.5" font-size="8.5" fill="#111" font-weight="bold" text-anchor="middle" class="a">-12</text>
<line x1="930.46" y1="405.7" x2="930.46" y2="410.2" stroke="#333" stroke-width="1.1"/>
<text x="930.46" y="420.5" font-size="8.5" fill="#111" font-weight="bold" text-anchor="middle" class="a">-10</text>
<line x1="968.62" y1="405.7" x2="968.62" y2="410.2" stroke="#333" stroke-width="1.1"/>
<text x="968.62" y="420.5" font-size="8.5" fill="#111" font-weight="bold" text-anchor="middle" class="a">-8</text>
<line x1="1006.78" y1="405.7" x2="1006.78" y2="410.2" stroke="#333" stroke-width="1.1"/>
<text x="1006.78" y="420.5" font-size="8.5" fill="#111" font-weight="bold" text-anchor="middle" class="a">-6</text>
<line x1="1044.94" y1="405.7" x2="1044.94" y2="410.2" stroke="#333" stroke-width="1.1"/>
<text x="1044.94" y="420.5" font-size="8.5" fill="#111" font-weight="bold" text-anchor="middle" class="a">-4</text>
<text x="969.8" y="443.8" font-size="8.7" fill="#585858" font-weight="normal" text-anchor="middle" textLength="80.7" lengthAdjust="spacingAndGlyphs" stroke="#585858" stroke-width="0.15" class="o">Log [Compound] (M)</text>
<text transform="translate(852.2,355.8) rotate(-90)" x="0" y="3.04" font-size="8.7" fill="#585858" font-weight="normal" text-anchor="middle" class="o" stroke="#585858" stroke-width="0.15" textLength="136.5" lengthAdjust="spacingAndGlyphs">% Luminescence Signal Remaining</text>
<line x1="1056.7" y1="286.4" x2="1068.9" y2="286.4" stroke="#ec1a80" stroke-width="0.8"/>
<circle cx="1062.8" cy="286.4" r="2.4" fill="#ec1a80"/>
<text x="1077.6" y="287.8" font-size="8.5" fill="#585858" font-weight="normal" text-anchor="start" textLength="39.3" lengthAdjust="spacingAndGlyphs" stroke="#585858" stroke-width="0.15" class="o">Adagrasib</text>
<line x1="1056.7" y1="301.6" x2="1068.9" y2="301.6" stroke="#1794d0" stroke-width="0.8"/>
<circle cx="1062.8" cy="301.6" r="2.4" fill="#1794d0"/>
<text x="1077.6" y="305.7" font-size="8.5" fill="#585858" font-weight="normal" text-anchor="start" textLength="29.2" lengthAdjust="spacingAndGlyphs" stroke="#585858" stroke-width="0.15" class="o">BI-2865</text>
<path d="M911.6,400.1 C916.88,399.88 935.93,399.18 943.3,398.8 C950.67,398.42 951.57,398.55 955.8,397.8 C960.03,397.05 964.43,395.68 968.7,394.3 C972.97,392.92 977.18,391.42 981.4,389.5 C985.62,387.58 989.75,385.85 994,382.8 C998.25,379.75 1002.67,375.7 1006.9,371.2 C1011.13,366.7 1015.2,361.08 1019.4,355.8 C1023.6,350.52 1027.87,344.88 1032.1,339.5 C1036.33,334.12 1042.68,326.17 1044.8,323.5" fill="none" stroke="#ec1a80" stroke-width="0.9"/>
<path d="M911.6,400.1 C918,400.08 937.77,400.03 950,400 C962.23,399.97 977.28,399.97 985,399.9 C992.72,399.83 992.65,400.05 996.3,399.6 C999.95,399.15 1004.02,398.72 1006.9,397.2 C1009.78,395.68 1011.52,393.22 1013.6,390.5 C1015.68,387.78 1017.48,384.75 1019.4,380.9 C1021.32,377.05 1022.98,371.25 1025.1,367.4 C1027.22,363.55 1029.85,360.53 1032.1,357.8 C1034.35,355.07 1036.48,352.77 1038.6,351 C1040.72,349.23 1043.77,347.83 1044.8,347.2" fill="none" stroke="#1794d0" stroke-width="0.9"/>
<line x1="981.4" y1="379.3" x2="981.4" y2="387.6" stroke="#ec1a80" stroke-width="0.8"/>
<line x1="979.2" y1="379.3" x2="983.6" y2="379.3" stroke="#ec1a80" stroke-width="0.8"/>
<line x1="979.2" y1="387.6" x2="983.6" y2="387.6" stroke="#ec1a80" stroke-width="0.8"/>
<line x1="994" y1="374.5" x2="994" y2="388.6" stroke="#ec1a80" stroke-width="0.8"/>
<line x1="991.8" y1="374.5" x2="996.2" y2="374.5" stroke="#ec1a80" stroke-width="0.8"/>
<line x1="991.8" y1="388.6" x2="996.2" y2="388.6" stroke="#ec1a80" stroke-width="0.8"/>
<line x1="1006.9" y1="370.7" x2="1006.9" y2="380.3" stroke="#ec1a80" stroke-width="0.8"/>
<line x1="1004.7" y1="370.7" x2="1009.1" y2="370.7" stroke="#ec1a80" stroke-width="0.8"/>
<line x1="1004.7" y1="380.3" x2="1009.1" y2="380.3" stroke="#ec1a80" stroke-width="0.8"/>
<line x1="1019.4" y1="348.5" x2="1019.4" y2="364.1" stroke="#ec1a80" stroke-width="0.8"/>
<line x1="1017.2" y1="348.5" x2="1021.6" y2="348.5" stroke="#ec1a80" stroke-width="0.8"/>
<line x1="1017.2" y1="364.1" x2="1021.6" y2="364.1" stroke="#ec1a80" stroke-width="0.8"/>
<line x1="1032.1" y1="312.5" x2="1032.1" y2="340.4" stroke="#ec1a80" stroke-width="0.8"/>
<line x1="1029.9" y1="312.5" x2="1034.3" y2="312.5" stroke="#ec1a80" stroke-width="0.8"/>
<line x1="1029.9" y1="340.4" x2="1034.3" y2="340.4" stroke="#ec1a80" stroke-width="0.8"/>
<line x1="955.8" y1="396.3" x2="955.8" y2="401" stroke="#1794d0" stroke-width="0.8"/>
<line x1="953.6" y1="396.3" x2="958" y2="396.3" stroke="#1794d0" stroke-width="0.8"/>
<line x1="953.6" y1="401" x2="958" y2="401" stroke="#1794d0" stroke-width="0.8"/>
<line x1="1032.1" y1="355.8" x2="1032.1" y2="361.2" stroke="#1794d0" stroke-width="0.8"/>
<line x1="1029.9" y1="355.8" x2="1034.3" y2="355.8" stroke="#1794d0" stroke-width="0.8"/>
<line x1="1029.9" y1="361.2" x2="1034.3" y2="361.2" stroke="#1794d0" stroke-width="0.8"/>
<line x1="1044.8" y1="336.2" x2="1044.8" y2="358.3" stroke="#1794d0" stroke-width="0.8"/>
<line x1="1042.6" y1="336.2" x2="1047" y2="336.2" stroke="#1794d0" stroke-width="0.8"/>
<line x1="1042.6" y1="358.3" x2="1047" y2="358.3" stroke="#1794d0" stroke-width="0.8"/>
<circle cx="911.6" cy="400.7" r="2.4" fill="#ec1a80"/>
<circle cx="943.3" cy="400.1" r="2.4" fill="#ec1a80"/>
<circle cx="968.7" cy="393.9" r="2.4" fill="#ec1a80"/>
<circle cx="981.4" cy="383.4" r="2.4" fill="#ec1a80"/>
<circle cx="994" cy="381.8" r="2.4" fill="#ec1a80"/>
<circle cx="1006.9" cy="375.5" r="2.4" fill="#ec1a80"/>
<circle cx="1019.4" cy="356.4" r="2.4" fill="#ec1a80"/>
<circle cx="1032.1" cy="326.6" r="2.4" fill="#ec1a80"/>
<circle cx="1044.8" cy="328.1" r="2.4" fill="#ec1a80"/>
<circle cx="911.6" cy="396.8" r="2.4" fill="#1794d0"/>
<circle cx="943.3" cy="399.7" r="2.4" fill="#1794d0"/>
<circle cx="955.8" cy="398.6" r="2.4" fill="#1794d0"/>
<circle cx="968.7" cy="400.5" r="2.4" fill="#1794d0"/>
<circle cx="981.4" cy="400.7" r="2.4" fill="#1794d0"/>
<circle cx="994" cy="401.1" r="2.4" fill="#1794d0"/>
<circle cx="1006.9" cy="398.6" r="2.4" fill="#1794d0"/>
<circle cx="1019.4" cy="382.8" r="2.4" fill="#1794d0"/>
<circle cx="1032.1" cy="358.3" r="2.4" fill="#1794d0"/>
<circle cx="1044.8" cy="347.4" r="2.4" fill="#1794d0"/>
</svg></body></html>
